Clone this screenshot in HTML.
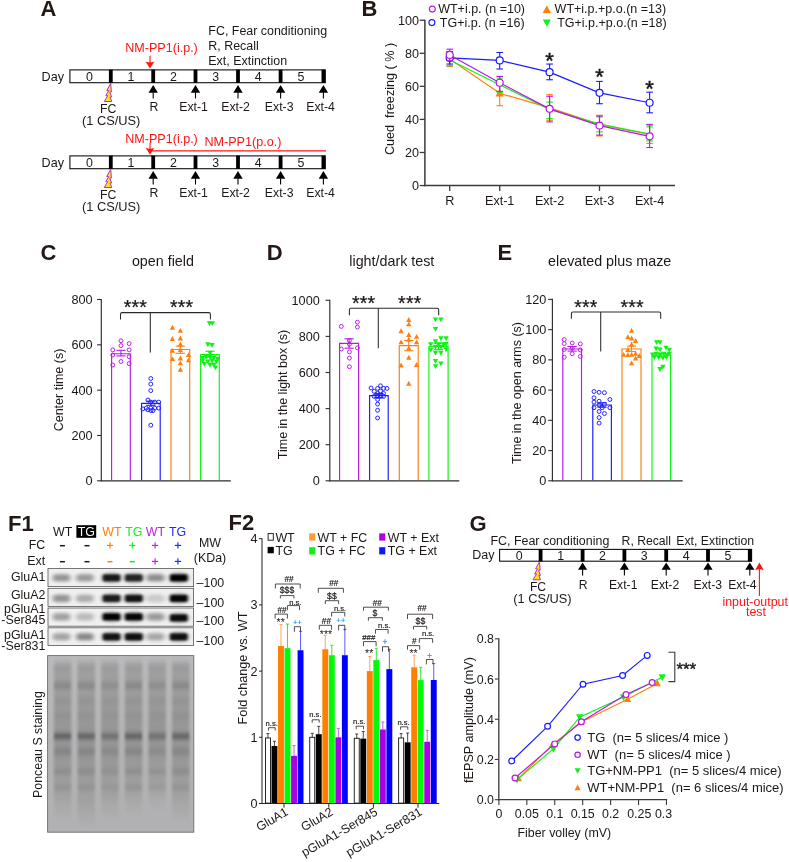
<!DOCTYPE html>
<html lang="en"><head><meta charset="utf-8"><title>Figure</title>
<style>
html,body{margin:0;padding:0;background:#fff;}
body{width:789px;height:862px;overflow:hidden;}
svg{display:block;font-family:"Liberation Sans",sans-serif;}
</style></head><body>
<svg width="789" height="862" viewBox="0 0 789 862">
<rect width="789" height="862" fill="#fff"/>
<text x="40.50" y="16.20" font-size="22" font-weight="bold" fill="#231815">A</text>
<text x="208.30" y="34.80" font-size="12.45" fill="#1d1816">FC, Fear conditioning</text>
<text x="208.30" y="49.90" font-size="12.45" fill="#1d1816">R, Recall</text>
<text x="208.30" y="64.70" font-size="12.45" fill="#1d1816">Ext, Extinction</text>
<rect x="69.90" y="69.90" width="255.40" height="12.80" fill="#fff" stroke="#111" stroke-width="1.1"/>
<rect x="108.90" y="69.60" width="3.80" height="13.40" fill="#000"/>
<rect x="151.30" y="69.60" width="3.80" height="13.40" fill="#000"/>
<rect x="193.60" y="69.60" width="3.80" height="13.40" fill="#000"/>
<rect x="236.10" y="69.60" width="3.80" height="13.40" fill="#000"/>
<rect x="278.70" y="69.60" width="3.80" height="13.40" fill="#000"/>
<rect x="321.50" y="69.60" width="3.80" height="13.40" fill="#000"/>
<text x="89.35" y="81.45" font-size="12.4" text-anchor="middle" fill="#1d1816">0</text>
<text x="131.00" y="81.45" font-size="12.4" text-anchor="middle" fill="#1d1816">1</text>
<text x="173.35" y="81.45" font-size="12.4" text-anchor="middle" fill="#1d1816">2</text>
<text x="215.75" y="81.45" font-size="12.4" text-anchor="middle" fill="#1d1816">3</text>
<text x="258.30" y="81.45" font-size="12.4" text-anchor="middle" fill="#1d1816">4</text>
<text x="301.00" y="81.45" font-size="12.4" text-anchor="middle" fill="#1d1816">5</text>
<text x="41.60" y="80.70" font-size="12.600000000000001" fill="#1d1816">Day</text>
<line x1="153.20" y1="92.20" x2="153.20" y2="98.50" stroke="#000" stroke-width="1.1"/>
<path d="M153.20 85.10L157.90 92.70L148.50 92.70Z" fill="#000"/>
<line x1="195.50" y1="92.20" x2="195.50" y2="98.50" stroke="#000" stroke-width="1.1"/>
<path d="M195.50 85.10L200.20 92.70L190.80 92.70Z" fill="#000"/>
<line x1="238.00" y1="92.20" x2="238.00" y2="98.50" stroke="#000" stroke-width="1.1"/>
<path d="M238.00 85.10L242.70 92.70L233.30 92.70Z" fill="#000"/>
<line x1="280.60" y1="92.20" x2="280.60" y2="98.50" stroke="#000" stroke-width="1.1"/>
<path d="M280.60 85.10L285.30 92.70L275.90 92.70Z" fill="#000"/>
<line x1="323.40" y1="92.20" x2="323.40" y2="98.50" stroke="#000" stroke-width="1.1"/>
<path d="M323.40 85.10L328.10 92.70L318.70 92.70Z" fill="#000"/>
<path d="M110.70 83.30L106.80 90.50L108.80 90.50L105.80 95.70L107.80 95.70L104.20 101.50L111.80 101.50L110.00 97.10L111.60 97.10L109.80 91.90L111.40 91.90Z" fill="#ffe600" stroke="#b92be0" stroke-width="1.0" stroke-linejoin="miter"/>
<text x="108.30" y="112.70" font-size="12.3" text-anchor="middle" fill="#1d1816">FC</text>
<text x="111.20" y="124.70" font-size="12.8" text-anchor="middle" fill="#1d1816">(1 CS/US)</text>
<text x="154.00" y="110.50" font-size="12.3" text-anchor="middle" fill="#1d1816">R</text>
<text x="193.60" y="110.50" font-size="12.3" text-anchor="middle" fill="#1d1816">Ext-1</text>
<text x="235.60" y="110.50" font-size="12.3" text-anchor="middle" fill="#1d1816">Ext-2</text>
<text x="279.20" y="110.50" font-size="12.3" text-anchor="middle" fill="#1d1816">Ext-3</text>
<text x="320.60" y="110.50" font-size="12.3" text-anchor="middle" fill="#1d1816">Ext-4</text>
<rect x="69.90" y="155.90" width="255.40" height="12.80" fill="#fff" stroke="#111" stroke-width="1.1"/>
<rect x="108.90" y="155.60" width="3.80" height="13.40" fill="#000"/>
<rect x="151.30" y="155.60" width="3.80" height="13.40" fill="#000"/>
<rect x="193.60" y="155.60" width="3.80" height="13.40" fill="#000"/>
<rect x="236.10" y="155.60" width="3.80" height="13.40" fill="#000"/>
<rect x="278.70" y="155.60" width="3.80" height="13.40" fill="#000"/>
<rect x="321.50" y="155.60" width="3.80" height="13.40" fill="#000"/>
<text x="89.35" y="167.45" font-size="12.4" text-anchor="middle" fill="#1d1816">0</text>
<text x="131.00" y="167.45" font-size="12.4" text-anchor="middle" fill="#1d1816">1</text>
<text x="173.35" y="167.45" font-size="12.4" text-anchor="middle" fill="#1d1816">2</text>
<text x="215.75" y="167.45" font-size="12.4" text-anchor="middle" fill="#1d1816">3</text>
<text x="258.30" y="167.45" font-size="12.4" text-anchor="middle" fill="#1d1816">4</text>
<text x="301.00" y="167.45" font-size="12.4" text-anchor="middle" fill="#1d1816">5</text>
<text x="41.60" y="166.70" font-size="12.600000000000001" fill="#1d1816">Day</text>
<line x1="153.20" y1="178.20" x2="153.20" y2="184.50" stroke="#000" stroke-width="1.1"/>
<path d="M153.20 171.10L157.90 178.70L148.50 178.70Z" fill="#000"/>
<line x1="195.50" y1="178.20" x2="195.50" y2="184.50" stroke="#000" stroke-width="1.1"/>
<path d="M195.50 171.10L200.20 178.70L190.80 178.70Z" fill="#000"/>
<line x1="238.00" y1="178.20" x2="238.00" y2="184.50" stroke="#000" stroke-width="1.1"/>
<path d="M238.00 171.10L242.70 178.70L233.30 178.70Z" fill="#000"/>
<line x1="280.60" y1="178.20" x2="280.60" y2="184.50" stroke="#000" stroke-width="1.1"/>
<path d="M280.60 171.10L285.30 178.70L275.90 178.70Z" fill="#000"/>
<line x1="323.40" y1="178.20" x2="323.40" y2="184.50" stroke="#000" stroke-width="1.1"/>
<path d="M323.40 171.10L328.10 178.70L318.70 178.70Z" fill="#000"/>
<path d="M110.70 169.30L106.80 176.50L108.80 176.50L105.80 181.70L107.80 181.70L104.20 187.50L111.80 187.50L110.00 183.10L111.60 183.10L109.80 177.90L111.40 177.90Z" fill="#ffe600" stroke="#b92be0" stroke-width="1.0" stroke-linejoin="miter"/>
<text x="108.30" y="198.70" font-size="12.3" text-anchor="middle" fill="#1d1816">FC</text>
<text x="111.20" y="210.70" font-size="12.8" text-anchor="middle" fill="#1d1816">(1 CS/US)</text>
<text x="154.00" y="196.50" font-size="12.3" text-anchor="middle" fill="#1d1816">R</text>
<text x="193.60" y="196.50" font-size="12.3" text-anchor="middle" fill="#1d1816">Ext-1</text>
<text x="235.60" y="196.50" font-size="12.3" text-anchor="middle" fill="#1d1816">Ext-2</text>
<text x="279.20" y="196.50" font-size="12.3" text-anchor="middle" fill="#1d1816">Ext-3</text>
<text x="320.60" y="196.50" font-size="12.3" text-anchor="middle" fill="#1d1816">Ext-4</text>
<text x="125.30" y="52.30" font-size="12.55" fill="#ff1414">NM-PP1(i.p.)</text>
<line x1="150.00" y1="55.80" x2="150.00" y2="63.00" stroke="#ff1414" stroke-width="1.1"/>
<path d="M145.5 61.4Q150 63.2 154.5 61.4L150 68.6Z" fill="#ff1414"/>
<text x="125.30" y="142.50" font-size="12.55" fill="#ff1414">NM-PP1(i.p.)</text>
<text x="204.40" y="145.60" font-size="12.6" fill="#ff1414">NM-PP1(p.o.)</text>
<line x1="150.00" y1="143.00" x2="150.00" y2="149.50" stroke="#ff1414" stroke-width="1.1"/>
<path d="M145.7 147.8Q150 149.6 154.3 147.8L150 154.8Z" fill="#ff1414"/>
<line x1="150.00" y1="150.90" x2="326.00" y2="150.90" stroke="#ff1414" stroke-width="1.2"/>
<text x="361.40" y="16.20" font-size="22" font-weight="bold" fill="#231815">B</text>
<line x1="424.90" y1="19.65" x2="424.90" y2="186.25" stroke="#3a3a3a" stroke-width="1.5"/>
<line x1="424.20" y1="185.55" x2="675.00" y2="185.55" stroke="#3a3a3a" stroke-width="1.5"/>
<line x1="419.70" y1="185.55" x2="424.90" y2="185.55" stroke="#3a3a3a" stroke-width="1.3"/>
<text x="418.90" y="190.15" font-size="12.6" text-anchor="end" fill="#1d1816">0</text>
<line x1="419.70" y1="152.49" x2="424.90" y2="152.49" stroke="#3a3a3a" stroke-width="1.3"/>
<text x="418.90" y="157.09" font-size="12.6" text-anchor="end" fill="#1d1816">20</text>
<line x1="419.70" y1="119.43" x2="424.90" y2="119.43" stroke="#3a3a3a" stroke-width="1.3"/>
<text x="418.90" y="124.03" font-size="12.6" text-anchor="end" fill="#1d1816">40</text>
<line x1="419.70" y1="86.37" x2="424.90" y2="86.37" stroke="#3a3a3a" stroke-width="1.3"/>
<text x="418.90" y="90.97" font-size="12.6" text-anchor="end" fill="#1d1816">60</text>
<line x1="419.70" y1="53.31" x2="424.90" y2="53.31" stroke="#3a3a3a" stroke-width="1.3"/>
<text x="418.90" y="57.91" font-size="12.6" text-anchor="end" fill="#1d1816">80</text>
<line x1="419.70" y1="20.25" x2="424.90" y2="20.25" stroke="#3a3a3a" stroke-width="1.3"/>
<text x="418.90" y="24.85" font-size="12.6" text-anchor="end" fill="#1d1816">100</text>
<line x1="449.70" y1="185.55" x2="449.70" y2="190.95" stroke="#3a3a3a" stroke-width="1.3"/>
<text x="449.70" y="204.85" font-size="12.6" text-anchor="middle" fill="#1d1816">R</text>
<line x1="499.70" y1="185.55" x2="499.70" y2="190.95" stroke="#3a3a3a" stroke-width="1.3"/>
<text x="499.70" y="204.85" font-size="12.6" text-anchor="middle" fill="#1d1816">Ext-1</text>
<line x1="549.60" y1="185.55" x2="549.60" y2="190.95" stroke="#3a3a3a" stroke-width="1.3"/>
<text x="549.60" y="204.85" font-size="12.6" text-anchor="middle" fill="#1d1816">Ext-2</text>
<line x1="599.50" y1="185.55" x2="599.50" y2="190.95" stroke="#3a3a3a" stroke-width="1.3"/>
<text x="599.50" y="204.85" font-size="12.6" text-anchor="middle" fill="#1d1816">Ext-3</text>
<line x1="649.60" y1="185.55" x2="649.60" y2="190.95" stroke="#3a3a3a" stroke-width="1.3"/>
<text x="649.60" y="204.85" font-size="12.6" text-anchor="middle" fill="#1d1816">Ext-4</text>
<text x="393.80" y="98.90" font-size="12.65" text-anchor="middle" fill="#1d1816" transform="rotate(-90 393.80 98.90)">Cued  freezing ( % )</text>
<line x1="449.70" y1="51.66" x2="449.70" y2="66.53" stroke="#ff7f0e" stroke-width="1.1"/>
<line x1="446.40" y1="51.66" x2="453.00" y2="51.66" stroke="#ff7f0e" stroke-width="1.1"/>
<line x1="446.40" y1="66.53" x2="453.00" y2="66.53" stroke="#ff7f0e" stroke-width="1.1"/>
<line x1="499.70" y1="83.89" x2="499.70" y2="105.71" stroke="#ff7f0e" stroke-width="1.1"/>
<line x1="496.40" y1="83.89" x2="503.00" y2="83.89" stroke="#ff7f0e" stroke-width="1.1"/>
<line x1="496.40" y1="105.71" x2="503.00" y2="105.71" stroke="#ff7f0e" stroke-width="1.1"/>
<line x1="549.60" y1="94.64" x2="549.60" y2="120.26" stroke="#ff7f0e" stroke-width="1.1"/>
<line x1="546.30" y1="94.64" x2="552.90" y2="94.64" stroke="#ff7f0e" stroke-width="1.1"/>
<line x1="546.30" y1="120.26" x2="552.90" y2="120.26" stroke="#ff7f0e" stroke-width="1.1"/>
<line x1="599.50" y1="115.30" x2="599.50" y2="135.96" stroke="#ff7f0e" stroke-width="1.1"/>
<line x1="596.20" y1="115.30" x2="602.80" y2="115.30" stroke="#ff7f0e" stroke-width="1.1"/>
<line x1="596.20" y1="135.96" x2="602.80" y2="135.96" stroke="#ff7f0e" stroke-width="1.1"/>
<line x1="649.60" y1="125.22" x2="649.60" y2="143.40" stroke="#ff7f0e" stroke-width="1.1"/>
<line x1="646.30" y1="125.22" x2="652.90" y2="125.22" stroke="#ff7f0e" stroke-width="1.1"/>
<line x1="646.30" y1="143.40" x2="652.90" y2="143.40" stroke="#ff7f0e" stroke-width="1.1"/>
<polyline points="449.70,59.10 499.70,93.31 549.60,107.86 599.50,124.39 649.60,134.31" fill="none" stroke="#ff7f0e" stroke-width="1.2"/>
<path d="M499.70 88.71L503.88 96.41L495.52 96.41Z" fill="#ff7f0e"/>
<line x1="449.70" y1="53.31" x2="449.70" y2="65.71" stroke="#0cf414" stroke-width="1.1"/>
<line x1="446.40" y1="53.31" x2="453.00" y2="53.31" stroke="#0cf414" stroke-width="1.1"/>
<line x1="446.40" y1="65.71" x2="453.00" y2="65.71" stroke="#0cf414" stroke-width="1.1"/>
<line x1="499.70" y1="78.11" x2="499.70" y2="92.16" stroke="#0cf414" stroke-width="1.1"/>
<line x1="496.40" y1="78.11" x2="503.00" y2="78.11" stroke="#0cf414" stroke-width="1.1"/>
<line x1="496.40" y1="92.16" x2="503.00" y2="92.16" stroke="#0cf414" stroke-width="1.1"/>
<line x1="549.60" y1="102.07" x2="549.60" y2="118.60" stroke="#0cf414" stroke-width="1.1"/>
<line x1="546.30" y1="102.07" x2="552.90" y2="102.07" stroke="#0cf414" stroke-width="1.1"/>
<line x1="546.30" y1="118.60" x2="552.90" y2="118.60" stroke="#0cf414" stroke-width="1.1"/>
<line x1="599.50" y1="116.95" x2="599.50" y2="131.83" stroke="#0cf414" stroke-width="1.1"/>
<line x1="596.20" y1="116.95" x2="602.80" y2="116.95" stroke="#0cf414" stroke-width="1.1"/>
<line x1="596.20" y1="131.83" x2="602.80" y2="131.83" stroke="#0cf414" stroke-width="1.1"/>
<line x1="649.60" y1="126.87" x2="649.60" y2="140.92" stroke="#0cf414" stroke-width="1.1"/>
<line x1="646.30" y1="126.87" x2="652.90" y2="126.87" stroke="#0cf414" stroke-width="1.1"/>
<line x1="646.30" y1="140.92" x2="652.90" y2="140.92" stroke="#0cf414" stroke-width="1.1"/>
<polyline points="449.70,59.92 499.70,84.72 549.60,109.51 599.50,124.06 649.60,133.98" fill="none" stroke="#0cf414" stroke-width="1.2"/>
<line x1="449.70" y1="51.66" x2="449.70" y2="64.05" stroke="#1a1aff" stroke-width="1.1"/>
<line x1="446.40" y1="51.66" x2="453.00" y2="51.66" stroke="#1a1aff" stroke-width="1.1"/>
<line x1="446.40" y1="64.05" x2="453.00" y2="64.05" stroke="#1a1aff" stroke-width="1.1"/>
<line x1="499.70" y1="52.48" x2="499.70" y2="69.01" stroke="#1a1aff" stroke-width="1.1"/>
<line x1="496.40" y1="52.48" x2="503.00" y2="52.48" stroke="#1a1aff" stroke-width="1.1"/>
<line x1="496.40" y1="69.01" x2="503.00" y2="69.01" stroke="#1a1aff" stroke-width="1.1"/>
<line x1="549.60" y1="64.05" x2="549.60" y2="79.76" stroke="#1a1aff" stroke-width="1.1"/>
<line x1="546.30" y1="64.05" x2="552.90" y2="64.05" stroke="#1a1aff" stroke-width="1.1"/>
<line x1="546.30" y1="79.76" x2="552.90" y2="79.76" stroke="#1a1aff" stroke-width="1.1"/>
<line x1="599.50" y1="81.41" x2="599.50" y2="103.73" stroke="#1a1aff" stroke-width="1.1"/>
<line x1="596.20" y1="81.41" x2="602.80" y2="81.41" stroke="#1a1aff" stroke-width="1.1"/>
<line x1="596.20" y1="103.73" x2="602.80" y2="103.73" stroke="#1a1aff" stroke-width="1.1"/>
<line x1="649.60" y1="92.16" x2="649.60" y2="112.82" stroke="#1a1aff" stroke-width="1.1"/>
<line x1="646.30" y1="92.16" x2="652.90" y2="92.16" stroke="#1a1aff" stroke-width="1.1"/>
<line x1="646.30" y1="112.82" x2="652.90" y2="112.82" stroke="#1a1aff" stroke-width="1.1"/>
<polyline points="449.70,57.94 499.70,60.42 549.60,72.15 599.50,92.82 649.60,102.73" fill="none" stroke="#1a1aff" stroke-width="1.2"/>
<circle cx="449.70" cy="57.94" r="3.5" fill="#fff" stroke="#1a1aff" stroke-width="1.2"/>
<circle cx="499.70" cy="60.42" r="3.5" fill="#fff" stroke="#1a1aff" stroke-width="1.2"/>
<circle cx="549.60" cy="72.15" r="3.5" fill="#fff" stroke="#1a1aff" stroke-width="1.2"/>
<circle cx="599.50" cy="92.82" r="3.5" fill="#fff" stroke="#1a1aff" stroke-width="1.2"/>
<circle cx="649.60" cy="102.73" r="3.5" fill="#fff" stroke="#1a1aff" stroke-width="1.2"/>
<line x1="449.70" y1="49.18" x2="449.70" y2="60.75" stroke="#b818e4" stroke-width="1.1"/>
<line x1="446.40" y1="49.18" x2="453.00" y2="49.18" stroke="#b818e4" stroke-width="1.1"/>
<line x1="446.40" y1="60.75" x2="453.00" y2="60.75" stroke="#b818e4" stroke-width="1.1"/>
<line x1="499.70" y1="76.45" x2="499.70" y2="91.33" stroke="#b818e4" stroke-width="1.1"/>
<line x1="496.40" y1="76.45" x2="503.00" y2="76.45" stroke="#b818e4" stroke-width="1.1"/>
<line x1="496.40" y1="91.33" x2="503.00" y2="91.33" stroke="#b818e4" stroke-width="1.1"/>
<line x1="549.60" y1="96.29" x2="549.60" y2="121.91" stroke="#b818e4" stroke-width="1.1"/>
<line x1="546.30" y1="96.29" x2="552.90" y2="96.29" stroke="#b818e4" stroke-width="1.1"/>
<line x1="546.30" y1="121.91" x2="552.90" y2="121.91" stroke="#b818e4" stroke-width="1.1"/>
<line x1="599.50" y1="116.12" x2="599.50" y2="135.13" stroke="#b818e4" stroke-width="1.1"/>
<line x1="596.20" y1="116.12" x2="602.80" y2="116.12" stroke="#b818e4" stroke-width="1.1"/>
<line x1="596.20" y1="135.13" x2="602.80" y2="135.13" stroke="#b818e4" stroke-width="1.1"/>
<line x1="649.60" y1="124.39" x2="649.60" y2="147.53" stroke="#b818e4" stroke-width="1.1"/>
<line x1="646.30" y1="124.39" x2="652.90" y2="124.39" stroke="#b818e4" stroke-width="1.1"/>
<line x1="646.30" y1="147.53" x2="652.90" y2="147.53" stroke="#b818e4" stroke-width="1.1"/>
<polyline points="449.70,54.96 499.70,82.73 549.60,108.85 599.50,125.55 649.60,136.29" fill="none" stroke="#b818e4" stroke-width="1.2"/>
<circle cx="449.70" cy="54.96" r="3.5" fill="#fff" stroke="#b818e4" stroke-width="1.2"/>
<circle cx="499.70" cy="82.73" r="3.5" fill="#fff" stroke="#b818e4" stroke-width="1.2"/>
<circle cx="549.60" cy="108.85" r="3.5" fill="#fff" stroke="#b818e4" stroke-width="1.2"/>
<circle cx="599.50" cy="125.55" r="3.5" fill="#fff" stroke="#b818e4" stroke-width="1.2"/>
<circle cx="649.60" cy="136.29" r="3.5" fill="#fff" stroke="#b818e4" stroke-width="1.2"/>
<text x="549.60" y="67.60" font-size="22" text-anchor="middle" fill="#1d1816" stroke="#1d1816" stroke-width="0.5">*</text>
<text x="599.50" y="84.00" font-size="22" text-anchor="middle" fill="#1d1816" stroke="#1d1816" stroke-width="0.5">*</text>
<text x="649.60" y="95.80" font-size="22" text-anchor="middle" fill="#1d1816" stroke="#1d1816" stroke-width="0.5">*</text>
<circle cx="432.30" cy="9.10" r="3.0" fill="#fff" stroke="#b818e4" stroke-width="1.1"/>
<text x="438.20" y="13.30" font-size="12.5" fill="#1d1816">WT+i.p. (n =10)</text>
<circle cx="431.90" cy="22.60" r="3.0" fill="#fff" stroke="#1a1aff" stroke-width="1.1"/>
<text x="439.80" y="27.40" font-size="12.5" fill="#1d1816">TG+i.p. (n =16)</text>
<path d="M546.80 5.40L550.98 13.10L542.62 13.10Z" fill="#ff7f0e"/>
<text x="554.60" y="13.30" font-size="12.5" fill="#1d1816">WT+i.p.+p.o.(n =13)</text>
<path d="M546.80 26.80L550.79 19.45L542.81 19.45Z" fill="#0cf414"/>
<text x="557.20" y="27.40" font-size="12.5" fill="#1d1816">TG+i.p.+p.o.(n =18)</text>
<text x="40.60" y="260.40" font-size="22" font-weight="bold" fill="#231815">C</text>
<text x="162.90" y="265.60" font-size="14.3" text-anchor="middle" fill="#1d1816">open field</text>
<line x1="101.30" y1="298.95" x2="101.30" y2="481.35" stroke="#2c2c2c" stroke-width="1.15"/>
<line x1="100.75" y1="480.80" x2="230.80" y2="480.80" stroke="#2c2c2c" stroke-width="1.15"/>
<line x1="97.10" y1="480.80" x2="101.30" y2="480.80" stroke="#2c2c2c" stroke-width="1.1"/>
<text x="92.60" y="485.30" font-size="12.7" text-anchor="end" fill="#1d1816">0</text>
<line x1="97.10" y1="435.48" x2="101.30" y2="435.48" stroke="#2c2c2c" stroke-width="1.1"/>
<text x="92.60" y="439.98" font-size="12.7" text-anchor="end" fill="#1d1816">200</text>
<line x1="97.10" y1="390.15" x2="101.30" y2="390.15" stroke="#2c2c2c" stroke-width="1.1"/>
<text x="92.60" y="394.65" font-size="12.7" text-anchor="end" fill="#1d1816">400</text>
<line x1="97.10" y1="344.82" x2="101.30" y2="344.82" stroke="#2c2c2c" stroke-width="1.1"/>
<text x="92.60" y="349.32" font-size="12.7" text-anchor="end" fill="#1d1816">600</text>
<line x1="97.10" y1="299.50" x2="101.30" y2="299.50" stroke="#2c2c2c" stroke-width="1.1"/>
<text x="92.60" y="304.00" font-size="12.7" text-anchor="end" fill="#1d1816">800</text>
<text x="62.60" y="390.00" font-size="12.5" text-anchor="middle" fill="#1d1816" transform="rotate(-90 62.60 390.00)">Center time (s)</text>
<path d="M111.60 480.20L111.60 353.70L130.30 353.70L130.30 480.20" fill="none" stroke="#b818e4" stroke-width="1.15"/>
<line x1="120.95" y1="350.30" x2="120.95" y2="355.90" stroke="#b818e4" stroke-width="1.1"/>
<line x1="116.35" y1="350.30" x2="125.55" y2="350.30" stroke="#b818e4" stroke-width="1.1"/>
<line x1="116.35" y1="355.90" x2="125.55" y2="355.90" stroke="#b818e4" stroke-width="1.1"/>
<circle cx="121.00" cy="340.80" r="1.95" fill="none" stroke="#b818e4" stroke-width="0.95"/>
<circle cx="121.00" cy="345.60" r="1.95" fill="none" stroke="#b818e4" stroke-width="0.95"/>
<circle cx="129.10" cy="343.60" r="1.95" fill="none" stroke="#b818e4" stroke-width="0.95"/>
<circle cx="112.80" cy="349.90" r="1.95" fill="none" stroke="#b818e4" stroke-width="0.95"/>
<circle cx="129.10" cy="349.90" r="1.95" fill="none" stroke="#b818e4" stroke-width="0.95"/>
<circle cx="112.80" cy="355.00" r="1.95" fill="none" stroke="#b818e4" stroke-width="0.95"/>
<circle cx="129.10" cy="356.70" r="1.95" fill="none" stroke="#b818e4" stroke-width="0.95"/>
<circle cx="121.00" cy="361.50" r="1.95" fill="none" stroke="#b818e4" stroke-width="0.95"/>
<circle cx="129.10" cy="363.60" r="1.95" fill="none" stroke="#b818e4" stroke-width="0.95"/>
<circle cx="112.80" cy="365.00" r="1.95" fill="none" stroke="#b818e4" stroke-width="0.95"/>
<path d="M141.60 480.20L141.60 403.30L160.20 403.30L160.20 480.20" fill="none" stroke="#1a1aff" stroke-width="1.15"/>
<line x1="150.90" y1="401.20" x2="150.90" y2="405.30" stroke="#1a1aff" stroke-width="1.1"/>
<line x1="146.30" y1="401.20" x2="155.50" y2="401.20" stroke="#1a1aff" stroke-width="1.1"/>
<line x1="146.30" y1="405.30" x2="155.50" y2="405.30" stroke="#1a1aff" stroke-width="1.1"/>
<circle cx="150.80" cy="378.50" r="1.95" fill="none" stroke="#1a1aff" stroke-width="0.95"/>
<circle cx="150.80" cy="384.10" r="1.95" fill="none" stroke="#1a1aff" stroke-width="0.95"/>
<circle cx="150.80" cy="390.60" r="1.95" fill="none" stroke="#1a1aff" stroke-width="0.95"/>
<circle cx="147.90" cy="400.00" r="1.95" fill="none" stroke="#1a1aff" stroke-width="0.95"/>
<circle cx="150.80" cy="402.10" r="1.95" fill="none" stroke="#1a1aff" stroke-width="0.95"/>
<circle cx="154.80" cy="402.10" r="1.95" fill="none" stroke="#1a1aff" stroke-width="0.95"/>
<circle cx="158.70" cy="402.10" r="1.95" fill="none" stroke="#1a1aff" stroke-width="0.95"/>
<circle cx="142.80" cy="408.90" r="1.95" fill="none" stroke="#1a1aff" stroke-width="0.95"/>
<circle cx="146.20" cy="408.10" r="1.95" fill="none" stroke="#1a1aff" stroke-width="0.95"/>
<circle cx="150.80" cy="408.10" r="1.95" fill="none" stroke="#1a1aff" stroke-width="0.95"/>
<circle cx="154.80" cy="408.10" r="1.95" fill="none" stroke="#1a1aff" stroke-width="0.95"/>
<circle cx="158.70" cy="408.10" r="1.95" fill="none" stroke="#1a1aff" stroke-width="0.95"/>
<circle cx="147.90" cy="409.80" r="1.95" fill="none" stroke="#1a1aff" stroke-width="0.95"/>
<circle cx="150.80" cy="410.60" r="1.95" fill="none" stroke="#1a1aff" stroke-width="0.95"/>
<circle cx="153.00" cy="410.60" r="1.95" fill="none" stroke="#1a1aff" stroke-width="0.95"/>
<circle cx="150.80" cy="425.20" r="1.95" fill="none" stroke="#1a1aff" stroke-width="0.95"/>
<path d="M171.00 480.20L171.00 349.50L189.70 349.50L189.70 480.20" fill="none" stroke="#ff7f0e" stroke-width="1.15"/>
<line x1="180.35" y1="346.10" x2="180.35" y2="353.30" stroke="#ff7f0e" stroke-width="1.1"/>
<line x1="175.75" y1="346.10" x2="184.95" y2="346.10" stroke="#ff7f0e" stroke-width="1.1"/>
<line x1="175.75" y1="353.30" x2="184.95" y2="353.30" stroke="#ff7f0e" stroke-width="1.1"/>
<path d="M172.40 324.80L175.06 329.70L169.74 329.70Z" fill="#ff7f0e"/>
<path d="M180.40 327.90L183.06 332.80L177.74 332.80Z" fill="#ff7f0e"/>
<path d="M172.40 336.00L175.06 340.90L169.74 340.90Z" fill="#ff7f0e"/>
<path d="M180.40 335.60L183.06 340.50L177.74 340.50Z" fill="#ff7f0e"/>
<path d="M180.40 341.60L183.06 346.50L177.74 346.50Z" fill="#ff7f0e"/>
<path d="M172.40 347.90L175.06 352.80L169.74 352.80Z" fill="#ff7f0e"/>
<path d="M180.40 347.10L183.06 352.00L177.74 352.00Z" fill="#ff7f0e"/>
<path d="M188.50 352.20L191.16 357.10L185.84 357.10Z" fill="#ff7f0e"/>
<path d="M172.40 356.20L175.06 361.10L169.74 361.10Z" fill="#ff7f0e"/>
<path d="M180.40 355.60L183.06 360.50L177.74 360.50Z" fill="#ff7f0e"/>
<path d="M188.50 357.40L191.16 362.30L185.84 362.30Z" fill="#ff7f0e"/>
<path d="M180.40 360.40L183.06 365.30L177.74 365.30Z" fill="#ff7f0e"/>
<path d="M180.40 366.80L183.06 371.70L177.74 371.70Z" fill="#ff7f0e"/>
<path d="M200.60 480.20L200.60 354.50L219.30 354.50L219.30 480.20" fill="none" stroke="#0cf414" stroke-width="1.15"/>
<line x1="209.95" y1="351.30" x2="209.95" y2="357.20" stroke="#0cf414" stroke-width="1.1"/>
<line x1="205.35" y1="351.30" x2="214.55" y2="351.30" stroke="#0cf414" stroke-width="1.1"/>
<line x1="205.35" y1="357.20" x2="214.55" y2="357.20" stroke="#0cf414" stroke-width="1.1"/>
<path d="M209.50 326.10L212.16 321.20L206.84 321.20Z" fill="#0cf414"/>
<path d="M212.40 326.10L215.06 321.20L209.74 321.20Z" fill="#0cf414"/>
<path d="M207.80 347.20L210.46 342.30L205.14 342.30Z" fill="#0cf414"/>
<path d="M212.10 348.00L214.76 343.10L209.44 343.10Z" fill="#0cf414"/>
<path d="M210.00 355.70L212.66 350.80L207.34 350.80Z" fill="#0cf414"/>
<path d="M202.70 360.80L205.36 355.90L200.04 355.90Z" fill="#0cf414"/>
<path d="M206.10 360.00L208.76 355.10L203.44 355.10Z" fill="#0cf414"/>
<path d="M210.00 360.00L212.66 355.10L207.34 355.10Z" fill="#0cf414"/>
<path d="M213.80 360.80L216.46 355.90L211.14 355.90Z" fill="#0cf414"/>
<path d="M217.70 361.70L220.36 356.80L215.04 356.80Z" fill="#0cf414"/>
<path d="M202.70 363.40L205.36 358.50L200.04 358.50Z" fill="#0cf414"/>
<path d="M207.80 364.30L210.46 359.40L205.14 359.40Z" fill="#0cf414"/>
<path d="M212.10 363.40L214.76 358.50L209.44 358.50Z" fill="#0cf414"/>
<path d="M216.40 364.30L219.06 359.40L213.74 359.40Z" fill="#0cf414"/>
<path d="M204.40 366.80L207.06 361.90L201.74 361.90Z" fill="#0cf414"/>
<path d="M210.00 367.70L212.66 362.80L207.34 362.80Z" fill="#0cf414"/>
<path d="M213.80 367.70L216.46 362.80L211.14 362.80Z" fill="#0cf414"/>
<path d="M215.50 370.30L218.16 365.40L212.84 365.40Z" fill="#0cf414"/>
<path d="M120.50 319.40L120.50 314.20Q120.50 312.60 122.10 312.60L208.80 312.60Q210.40 312.60 210.40 314.20L210.40 319.40" fill="none" stroke="#2a2a2a" stroke-width="1.05"/>
<line x1="150.30" y1="312.60" x2="150.30" y2="352.50" stroke="#2a2a2a" stroke-width="1.05"/>
<text x="135.40" y="313.90" font-size="19.5" text-anchor="middle" fill="#1d1816" letter-spacing="0.2" stroke="#1d1816" stroke-width="0.25">***</text>
<text x="181.60" y="313.90" font-size="19.5" text-anchor="middle" fill="#1d1816" letter-spacing="0.2" stroke="#1d1816" stroke-width="0.25">***</text>
<text x="266.80" y="260.40" font-size="22" font-weight="bold" fill="#231815">D</text>
<text x="391.80" y="265.60" font-size="14.3" text-anchor="middle" fill="#1d1816">light/dark test</text>
<line x1="329.80" y1="299.75" x2="329.80" y2="481.35" stroke="#2c2c2c" stroke-width="1.15"/>
<line x1="329.25" y1="480.80" x2="459.30" y2="480.80" stroke="#2c2c2c" stroke-width="1.15"/>
<line x1="325.60" y1="480.80" x2="329.80" y2="480.80" stroke="#2c2c2c" stroke-width="1.1"/>
<text x="319.80" y="485.30" font-size="12.7" text-anchor="end" fill="#1d1816">0</text>
<line x1="325.60" y1="444.70" x2="329.80" y2="444.70" stroke="#2c2c2c" stroke-width="1.1"/>
<text x="319.80" y="449.20" font-size="12.7" text-anchor="end" fill="#1d1816">200</text>
<line x1="325.60" y1="408.60" x2="329.80" y2="408.60" stroke="#2c2c2c" stroke-width="1.1"/>
<text x="319.80" y="413.10" font-size="12.7" text-anchor="end" fill="#1d1816">400</text>
<line x1="325.60" y1="372.50" x2="329.80" y2="372.50" stroke="#2c2c2c" stroke-width="1.1"/>
<text x="319.80" y="377.00" font-size="12.7" text-anchor="end" fill="#1d1816">600</text>
<line x1="325.60" y1="336.40" x2="329.80" y2="336.40" stroke="#2c2c2c" stroke-width="1.1"/>
<text x="319.80" y="340.90" font-size="12.7" text-anchor="end" fill="#1d1816">800</text>
<line x1="325.60" y1="300.30" x2="329.80" y2="300.30" stroke="#2c2c2c" stroke-width="1.1"/>
<text x="319.80" y="304.80" font-size="12.7" text-anchor="end" fill="#1d1816">1000</text>
<text x="287.40" y="394.50" font-size="12.5" text-anchor="middle" fill="#1d1816" transform="rotate(-90 287.40 394.50)">Time in the light box (s)</text>
<path d="M339.60 480.20L339.60 343.40L358.60 343.40L358.60 480.20" fill="none" stroke="#b818e4" stroke-width="1.15"/>
<line x1="349.10" y1="338.80" x2="349.10" y2="348.20" stroke="#b818e4" stroke-width="1.1"/>
<line x1="344.50" y1="338.80" x2="353.70" y2="338.80" stroke="#b818e4" stroke-width="1.1"/>
<line x1="344.50" y1="348.20" x2="353.70" y2="348.20" stroke="#b818e4" stroke-width="1.1"/>
<circle cx="341.30" cy="326.40" r="1.95" fill="none" stroke="#b818e4" stroke-width="0.95"/>
<circle cx="357.40" cy="322.20" r="1.95" fill="none" stroke="#b818e4" stroke-width="0.95"/>
<circle cx="357.40" cy="327.10" r="1.95" fill="none" stroke="#b818e4" stroke-width="0.95"/>
<circle cx="349.40" cy="340.50" r="1.95" fill="none" stroke="#b818e4" stroke-width="0.95"/>
<circle cx="349.40" cy="344.40" r="1.95" fill="none" stroke="#b818e4" stroke-width="0.95"/>
<circle cx="341.30" cy="349.00" r="1.95" fill="none" stroke="#b818e4" stroke-width="0.95"/>
<circle cx="357.40" cy="347.80" r="1.95" fill="none" stroke="#b818e4" stroke-width="0.95"/>
<circle cx="349.40" cy="351.90" r="1.95" fill="none" stroke="#b818e4" stroke-width="0.95"/>
<circle cx="349.40" cy="358.10" r="1.95" fill="none" stroke="#b818e4" stroke-width="0.95"/>
<circle cx="349.40" cy="366.70" r="1.95" fill="none" stroke="#b818e4" stroke-width="0.95"/>
<path d="M369.60 480.20L369.60 395.60L388.20 395.60L388.20 480.20" fill="none" stroke="#1a1aff" stroke-width="1.15"/>
<line x1="378.90" y1="393.60" x2="378.90" y2="397.60" stroke="#1a1aff" stroke-width="1.1"/>
<line x1="374.30" y1="393.60" x2="383.50" y2="393.60" stroke="#1a1aff" stroke-width="1.1"/>
<line x1="374.30" y1="397.60" x2="383.50" y2="397.60" stroke="#1a1aff" stroke-width="1.1"/>
<circle cx="371.10" cy="388.00" r="1.95" fill="none" stroke="#1a1aff" stroke-width="0.95"/>
<circle cx="380.50" cy="385.80" r="1.95" fill="none" stroke="#1a1aff" stroke-width="0.95"/>
<circle cx="377.60" cy="388.40" r="1.95" fill="none" stroke="#1a1aff" stroke-width="0.95"/>
<circle cx="383.60" cy="388.40" r="1.95" fill="none" stroke="#1a1aff" stroke-width="0.95"/>
<circle cx="387.00" cy="388.40" r="1.95" fill="none" stroke="#1a1aff" stroke-width="0.95"/>
<circle cx="374.20" cy="391.30" r="1.95" fill="none" stroke="#1a1aff" stroke-width="0.95"/>
<circle cx="380.50" cy="391.00" r="1.95" fill="none" stroke="#1a1aff" stroke-width="0.95"/>
<circle cx="377.60" cy="393.50" r="1.95" fill="none" stroke="#1a1aff" stroke-width="0.95"/>
<circle cx="383.60" cy="393.50" r="1.95" fill="none" stroke="#1a1aff" stroke-width="0.95"/>
<circle cx="374.20" cy="396.40" r="1.95" fill="none" stroke="#1a1aff" stroke-width="0.95"/>
<circle cx="377.60" cy="396.40" r="1.95" fill="none" stroke="#1a1aff" stroke-width="0.95"/>
<circle cx="380.50" cy="396.40" r="1.95" fill="none" stroke="#1a1aff" stroke-width="0.95"/>
<circle cx="383.60" cy="396.40" r="1.95" fill="none" stroke="#1a1aff" stroke-width="0.95"/>
<circle cx="377.60" cy="399.50" r="1.95" fill="none" stroke="#1a1aff" stroke-width="0.95"/>
<circle cx="377.60" cy="404.10" r="1.95" fill="none" stroke="#1a1aff" stroke-width="0.95"/>
<circle cx="377.60" cy="410.30" r="1.95" fill="none" stroke="#1a1aff" stroke-width="0.95"/>
<circle cx="377.60" cy="418.00" r="1.95" fill="none" stroke="#1a1aff" stroke-width="0.95"/>
<path d="M399.30 480.20L399.30 345.60L418.20 345.60L418.20 480.20" fill="none" stroke="#ff7f0e" stroke-width="1.15"/>
<line x1="408.75" y1="340.50" x2="408.75" y2="350.70" stroke="#ff7f0e" stroke-width="1.1"/>
<line x1="404.15" y1="340.50" x2="413.35" y2="340.50" stroke="#ff7f0e" stroke-width="1.1"/>
<line x1="404.15" y1="350.70" x2="413.35" y2="350.70" stroke="#ff7f0e" stroke-width="1.1"/>
<path d="M408.80 317.10L411.46 322.00L406.14 322.00Z" fill="#ff7f0e"/>
<path d="M408.80 321.40L411.46 326.30L406.14 326.30Z" fill="#ff7f0e"/>
<path d="M401.10 328.30L403.76 333.20L398.44 333.20Z" fill="#ff7f0e"/>
<path d="M408.80 332.00L411.46 336.90L406.14 336.90Z" fill="#ff7f0e"/>
<path d="M416.60 333.90L419.26 338.80L413.94 338.80Z" fill="#ff7f0e"/>
<path d="M401.10 339.40L403.76 344.30L398.44 344.30Z" fill="#ff7f0e"/>
<path d="M408.80 336.80L411.46 341.70L406.14 341.70Z" fill="#ff7f0e"/>
<path d="M416.60 339.40L419.26 344.30L413.94 344.30Z" fill="#ff7f0e"/>
<path d="M408.80 345.40L411.46 350.30L406.14 350.30Z" fill="#ff7f0e"/>
<path d="M408.80 354.80L411.46 359.70L406.14 359.70Z" fill="#ff7f0e"/>
<path d="M401.10 362.50L403.76 367.40L398.44 367.40Z" fill="#ff7f0e"/>
<path d="M416.60 362.00L419.26 366.90L413.94 366.90Z" fill="#ff7f0e"/>
<path d="M408.80 380.80L411.46 385.70L406.14 385.70Z" fill="#ff7f0e"/>
<path d="M428.90 480.20L428.90 346.50L448.10 346.50L448.10 480.20" fill="none" stroke="#0cf414" stroke-width="1.15"/>
<line x1="438.50" y1="343.40" x2="438.50" y2="349.60" stroke="#0cf414" stroke-width="1.1"/>
<line x1="433.90" y1="343.40" x2="443.10" y2="343.40" stroke="#0cf414" stroke-width="1.1"/>
<line x1="433.90" y1="349.60" x2="443.10" y2="349.60" stroke="#0cf414" stroke-width="1.1"/>
<path d="M435.50 322.30L438.16 317.40L432.84 317.40Z" fill="#0cf414"/>
<path d="M440.90 322.30L443.56 317.40L438.24 317.40Z" fill="#0cf414"/>
<path d="M435.50 331.80L438.16 326.90L432.84 326.90Z" fill="#0cf414"/>
<path d="M440.90 341.20L443.56 336.30L438.24 336.30Z" fill="#0cf414"/>
<path d="M446.10 341.20L448.76 336.30L443.44 336.30Z" fill="#0cf414"/>
<path d="M435.50 344.20L438.16 339.30L432.84 339.30Z" fill="#0cf414"/>
<path d="M430.70 347.20L433.36 342.30L428.04 342.30Z" fill="#0cf414"/>
<path d="M438.40 347.20L441.06 342.30L435.74 342.30Z" fill="#0cf414"/>
<path d="M443.50 347.20L446.16 342.30L440.84 342.30Z" fill="#0cf414"/>
<path d="M446.10 346.80L448.76 341.90L443.44 341.90Z" fill="#0cf414"/>
<path d="M435.50 349.70L438.16 344.80L432.84 344.80Z" fill="#0cf414"/>
<path d="M440.90 349.70L443.56 344.80L438.24 344.80Z" fill="#0cf414"/>
<path d="M430.70 352.60L433.36 347.70L428.04 347.70Z" fill="#0cf414"/>
<path d="M446.10 352.30L448.76 347.40L443.44 347.40Z" fill="#0cf414"/>
<path d="M435.50 355.70L438.16 350.80L432.84 350.80Z" fill="#0cf414"/>
<path d="M440.90 355.70L443.56 350.80L438.24 350.80Z" fill="#0cf414"/>
<path d="M435.50 363.90L438.16 359.00L432.84 359.00Z" fill="#0cf414"/>
<path d="M435.50 369.10L438.16 364.20L432.84 364.20Z" fill="#0cf414"/>
<path d="M440.90 366.30L443.56 361.40L438.24 361.40Z" fill="#0cf414"/>
<path d="M349.40 315.30L349.40 309.90Q349.40 308.30 351.00 308.30L437.10 308.30Q438.70 308.30 438.70 309.90L438.70 315.30" fill="none" stroke="#2a2a2a" stroke-width="1.05"/>
<line x1="378.30" y1="308.30" x2="378.30" y2="348.20" stroke="#2a2a2a" stroke-width="1.05"/>
<text x="363.60" y="309.80" font-size="19.5" text-anchor="middle" fill="#1d1816" letter-spacing="0.2" stroke="#1d1816" stroke-width="0.25">***</text>
<text x="409.80" y="309.80" font-size="19.5" text-anchor="middle" fill="#1d1816" letter-spacing="0.2" stroke="#1d1816" stroke-width="0.25">***</text>
<text x="497.40" y="260.40" font-size="22" font-weight="bold" fill="#231815">E</text>
<text x="609.70" y="265.60" font-size="14.3" text-anchor="middle" fill="#1d1816">elevated plus maze</text>
<line x1="552.40" y1="298.85" x2="552.40" y2="481.35" stroke="#2c2c2c" stroke-width="1.15"/>
<line x1="551.85" y1="480.80" x2="682.70" y2="480.80" stroke="#2c2c2c" stroke-width="1.15"/>
<line x1="548.20" y1="480.80" x2="552.40" y2="480.80" stroke="#2c2c2c" stroke-width="1.1"/>
<text x="546.30" y="485.30" font-size="12.7" text-anchor="end" fill="#1d1816">0</text>
<line x1="548.20" y1="450.57" x2="552.40" y2="450.57" stroke="#2c2c2c" stroke-width="1.1"/>
<text x="546.30" y="455.07" font-size="12.7" text-anchor="end" fill="#1d1816">20</text>
<line x1="548.20" y1="420.33" x2="552.40" y2="420.33" stroke="#2c2c2c" stroke-width="1.1"/>
<text x="546.30" y="424.83" font-size="12.7" text-anchor="end" fill="#1d1816">40</text>
<line x1="548.20" y1="390.10" x2="552.40" y2="390.10" stroke="#2c2c2c" stroke-width="1.1"/>
<text x="546.30" y="394.60" font-size="12.7" text-anchor="end" fill="#1d1816">60</text>
<line x1="548.20" y1="359.87" x2="552.40" y2="359.87" stroke="#2c2c2c" stroke-width="1.1"/>
<text x="546.30" y="364.37" font-size="12.7" text-anchor="end" fill="#1d1816">80</text>
<line x1="548.20" y1="329.63" x2="552.40" y2="329.63" stroke="#2c2c2c" stroke-width="1.1"/>
<text x="546.30" y="334.13" font-size="12.7" text-anchor="end" fill="#1d1816">100</text>
<line x1="548.20" y1="299.40" x2="552.40" y2="299.40" stroke="#2c2c2c" stroke-width="1.1"/>
<text x="546.30" y="303.90" font-size="12.7" text-anchor="end" fill="#1d1816">120</text>
<text x="521.20" y="393.00" font-size="12.5" text-anchor="middle" fill="#1d1816" transform="rotate(-90 521.20 393.00)">Time in the open arms (s)</text>
<path d="M562.80 480.20L562.80 349.00L581.50 349.00L581.50 480.20" fill="none" stroke="#b818e4" stroke-width="1.15"/>
<line x1="572.15" y1="346.50" x2="572.15" y2="351.10" stroke="#b818e4" stroke-width="1.1"/>
<line x1="567.55" y1="346.50" x2="576.75" y2="346.50" stroke="#b818e4" stroke-width="1.1"/>
<line x1="567.55" y1="351.10" x2="576.75" y2="351.10" stroke="#b818e4" stroke-width="1.1"/>
<circle cx="564.20" cy="339.60" r="1.95" fill="none" stroke="#b818e4" stroke-width="0.95"/>
<circle cx="564.20" cy="343.60" r="1.95" fill="none" stroke="#b818e4" stroke-width="0.95"/>
<circle cx="572.20" cy="343.00" r="1.95" fill="none" stroke="#b818e4" stroke-width="0.95"/>
<circle cx="580.30" cy="343.90" r="1.95" fill="none" stroke="#b818e4" stroke-width="0.95"/>
<circle cx="564.20" cy="349.50" r="1.95" fill="none" stroke="#b818e4" stroke-width="0.95"/>
<circle cx="572.20" cy="348.20" r="1.95" fill="none" stroke="#b818e4" stroke-width="0.95"/>
<circle cx="580.30" cy="349.90" r="1.95" fill="none" stroke="#b818e4" stroke-width="0.95"/>
<circle cx="572.20" cy="353.70" r="1.95" fill="none" stroke="#b818e4" stroke-width="0.95"/>
<circle cx="564.20" cy="357.20" r="1.95" fill="none" stroke="#b818e4" stroke-width="0.95"/>
<circle cx="580.30" cy="356.40" r="1.95" fill="none" stroke="#b818e4" stroke-width="0.95"/>
<path d="M592.80 480.20L592.80 405.00L611.40 405.00L611.40 480.20" fill="none" stroke="#1a1aff" stroke-width="1.15"/>
<line x1="602.10" y1="402.80" x2="602.10" y2="407.20" stroke="#1a1aff" stroke-width="1.1"/>
<line x1="597.50" y1="402.80" x2="606.70" y2="402.80" stroke="#1a1aff" stroke-width="1.1"/>
<line x1="597.50" y1="407.20" x2="606.70" y2="407.20" stroke="#1a1aff" stroke-width="1.1"/>
<circle cx="594.00" cy="391.50" r="1.95" fill="none" stroke="#1a1aff" stroke-width="0.95"/>
<circle cx="599.10" cy="392.30" r="1.95" fill="none" stroke="#1a1aff" stroke-width="0.95"/>
<circle cx="604.40" cy="392.70" r="1.95" fill="none" stroke="#1a1aff" stroke-width="0.95"/>
<circle cx="594.00" cy="397.80" r="1.95" fill="none" stroke="#1a1aff" stroke-width="0.95"/>
<circle cx="609.90" cy="399.50" r="1.95" fill="none" stroke="#1a1aff" stroke-width="0.95"/>
<circle cx="594.00" cy="402.10" r="1.95" fill="none" stroke="#1a1aff" stroke-width="0.95"/>
<circle cx="599.10" cy="401.20" r="1.95" fill="none" stroke="#1a1aff" stroke-width="0.95"/>
<circle cx="604.40" cy="404.30" r="1.95" fill="none" stroke="#1a1aff" stroke-width="0.95"/>
<circle cx="599.10" cy="405.00" r="1.95" fill="none" stroke="#1a1aff" stroke-width="0.95"/>
<circle cx="594.00" cy="407.70" r="1.95" fill="none" stroke="#1a1aff" stroke-width="0.95"/>
<circle cx="602.20" cy="407.70" r="1.95" fill="none" stroke="#1a1aff" stroke-width="0.95"/>
<circle cx="609.90" cy="407.70" r="1.95" fill="none" stroke="#1a1aff" stroke-width="0.95"/>
<circle cx="599.10" cy="411.50" r="1.95" fill="none" stroke="#1a1aff" stroke-width="0.95"/>
<circle cx="604.40" cy="413.50" r="1.95" fill="none" stroke="#1a1aff" stroke-width="0.95"/>
<circle cx="599.10" cy="417.50" r="1.95" fill="none" stroke="#1a1aff" stroke-width="0.95"/>
<circle cx="599.10" cy="423.10" r="1.95" fill="none" stroke="#1a1aff" stroke-width="0.95"/>
<path d="M622.00 480.20L622.00 349.00L641.00 349.00L641.00 480.20" fill="none" stroke="#ff7f0e" stroke-width="1.15"/>
<line x1="631.50" y1="346.10" x2="631.50" y2="351.60" stroke="#ff7f0e" stroke-width="1.1"/>
<line x1="626.90" y1="346.10" x2="636.10" y2="346.10" stroke="#ff7f0e" stroke-width="1.1"/>
<line x1="626.90" y1="351.60" x2="636.10" y2="351.60" stroke="#ff7f0e" stroke-width="1.1"/>
<path d="M631.60 327.90L634.26 332.80L628.94 332.80Z" fill="#ff7f0e"/>
<path d="M627.90 334.30L630.56 339.20L625.24 339.20Z" fill="#ff7f0e"/>
<path d="M631.60 335.60L634.26 340.50L628.94 340.50Z" fill="#ff7f0e"/>
<path d="M635.60 338.00L638.26 342.90L632.94 342.90Z" fill="#ff7f0e"/>
<path d="M631.60 341.60L634.26 346.50L628.94 346.50Z" fill="#ff7f0e"/>
<path d="M627.90 347.10L630.56 352.00L625.24 352.00Z" fill="#ff7f0e"/>
<path d="M623.60 351.90L626.26 356.80L620.94 356.80Z" fill="#ff7f0e"/>
<path d="M627.90 352.20L630.56 357.10L625.24 357.10Z" fill="#ff7f0e"/>
<path d="M631.60 351.90L634.26 356.80L628.94 356.80Z" fill="#ff7f0e"/>
<path d="M635.60 350.90L638.26 355.80L632.94 355.80Z" fill="#ff7f0e"/>
<path d="M639.30 353.10L641.96 358.00L636.64 358.00Z" fill="#ff7f0e"/>
<path d="M635.60 355.60L638.26 360.50L632.94 360.50Z" fill="#ff7f0e"/>
<path d="M631.60 360.40L634.26 365.30L628.94 365.30Z" fill="#ff7f0e"/>
<path d="M652.00 480.20L652.00 355.00L670.60 355.00L670.60 480.20" fill="none" stroke="#0cf414" stroke-width="1.15"/>
<line x1="661.30" y1="353.20" x2="661.30" y2="356.80" stroke="#0cf414" stroke-width="1.1"/>
<line x1="656.70" y1="353.20" x2="665.90" y2="353.20" stroke="#0cf414" stroke-width="1.1"/>
<line x1="656.70" y1="356.80" x2="665.90" y2="356.80" stroke="#0cf414" stroke-width="1.1"/>
<path d="M656.60 345.10L659.26 340.20L653.94 340.20Z" fill="#0cf414"/>
<path d="M660.00 345.10L662.66 340.20L657.34 340.20Z" fill="#0cf414"/>
<path d="M656.10 351.40L658.76 346.50L653.44 346.50Z" fill="#0cf414"/>
<path d="M660.00 352.30L662.66 347.40L657.34 347.40Z" fill="#0cf414"/>
<path d="M666.00 350.60L668.66 345.70L663.34 345.70Z" fill="#0cf414"/>
<path d="M669.30 352.60L671.96 347.70L666.64 347.70Z" fill="#0cf414"/>
<path d="M652.70 357.40L655.36 352.50L650.04 352.50Z" fill="#0cf414"/>
<path d="M656.10 356.60L658.76 351.70L653.44 351.70Z" fill="#0cf414"/>
<path d="M660.00 357.40L662.66 352.50L657.34 352.50Z" fill="#0cf414"/>
<path d="M663.80 356.60L666.46 351.70L661.14 351.70Z" fill="#0cf414"/>
<path d="M667.20 357.80L669.86 352.90L664.54 352.90Z" fill="#0cf414"/>
<path d="M669.30 356.60L671.96 351.70L666.64 351.70Z" fill="#0cf414"/>
<path d="M654.40 360.00L657.06 355.10L651.74 355.10Z" fill="#0cf414"/>
<path d="M658.70 360.00L661.36 355.10L656.04 355.10Z" fill="#0cf414"/>
<path d="M662.90 360.80L665.56 355.90L660.24 355.90Z" fill="#0cf414"/>
<path d="M666.40 360.00L669.06 355.10L663.74 355.10Z" fill="#0cf414"/>
<path d="M662.90 369.70L665.56 364.80L660.24 364.80Z" fill="#0cf414"/>
<path d="M660.00 372.00L662.66 367.10L657.34 367.10Z" fill="#0cf414"/>
<path d="M571.40 318.70L571.40 313.50Q571.40 311.90 573.00 311.90L659.10 311.90Q660.70 311.90 660.70 313.50L660.70 318.70" fill="none" stroke="#2a2a2a" stroke-width="1.05"/>
<line x1="600.70" y1="311.90" x2="600.70" y2="351.60" stroke="#2a2a2a" stroke-width="1.05"/>
<text x="585.90" y="313.60" font-size="19.5" text-anchor="middle" fill="#1d1816" letter-spacing="0.2" stroke="#1d1816" stroke-width="0.25">***</text>
<text x="632.10" y="313.60" font-size="19.5" text-anchor="middle" fill="#1d1816" letter-spacing="0.2" stroke="#1d1816" stroke-width="0.25">***</text>
<defs><filter id="bl1" x="-30%" y="-80%" width="160%" height="260%"><feGaussianBlur stdDeviation="1.35 1.1"/></filter><filter id="bl2" x="-30%" y="-150%" width="160%" height="400%"><feGaussianBlur stdDeviation="2.2 1.6"/></filter><filter id="bl3" x="-50%" y="-10%" width="200%" height="120%"><feGaussianBlur stdDeviation="2.4 3"/></filter><linearGradient id="pg" x1="0" y1="0" x2="0" y2="1"><stop offset="0" stop-color="#bababc"/><stop offset="0.5" stop-color="#b4b4b6"/><stop offset="1" stop-color="#b1b1b3"/></linearGradient><clipPath id="pc"><rect x="47.6" y="655.6" width="146.2" height="176.6"/></clipPath><filter id="bl6" x="-30%" y="-80%" width="160%" height="260%"><feGaussianBlur stdDeviation="1.9 1.5"/></filter><filter id="bl4" x="-40%" y="-10%" width="180%" height="120%"><feGaussianBlur stdDeviation="1.5 3.5"/></filter><filter id="bl5" x="-40%" y="-150%" width="180%" height="400%"><feGaussianBlur stdDeviation="1.3 1.9"/></filter><linearGradient id="lg" x1="0" y1="0" x2="0" y2="1"><stop offset="0" stop-color="#9c9c9c" stop-opacity="0.85"/><stop offset="0.55" stop-color="#8e8e8e" stop-opacity="0.85"/><stop offset="0.85" stop-color="#9a9a9a" stop-opacity="0.7"/><stop offset="1" stop-color="#a8a8a8" stop-opacity="0.3"/></linearGradient></defs>
<text x="8.00" y="530.70" font-size="22" font-weight="bold" fill="#231815">F1</text>
<rect x="76.40" y="525.20" width="19.80" height="12.60" fill="#000"/>
<text x="62.60" y="535.90" font-size="12.4" text-anchor="middle" fill="#1d1816">WT</text>
<text x="86.30" y="535.90" font-size="12.4" text-anchor="middle" fill="#fff">TG</text>
<text x="112.00" y="535.90" font-size="12.4" text-anchor="middle" fill="#ff7f0e">WT</text>
<text x="133.80" y="535.90" font-size="12.4" text-anchor="middle" fill="#0cf414">TG</text>
<text x="155.40" y="535.90" font-size="12.4" text-anchor="middle" fill="#c11fe0">WT</text>
<text x="177.60" y="535.90" font-size="12.4" text-anchor="middle" fill="#1a2bff">TG</text>
<text x="45.20" y="549.00" font-size="12.4" text-anchor="end" fill="#1d1816">FC</text>
<text x="45.20" y="565.00" font-size="12.4" text-anchor="end" fill="#1d1816">Ext</text>
<line x1="59.90" y1="545.70" x2="64.90" y2="545.70" stroke="#1d1816" stroke-width="1.5"/>
<line x1="59.90" y1="561.70" x2="64.90" y2="561.70" stroke="#1d1816" stroke-width="1.5"/>
<line x1="84.50" y1="545.70" x2="89.50" y2="545.70" stroke="#1d1816" stroke-width="1.5"/>
<line x1="84.50" y1="561.70" x2="89.50" y2="561.70" stroke="#1d1816" stroke-width="1.5"/>
<line x1="106.90" y1="545.40" x2="113.10" y2="545.40" stroke="#ff7f0e" stroke-width="1.15"/>
<line x1="110.00" y1="542.30" x2="110.00" y2="548.50" stroke="#ff7f0e" stroke-width="1.15"/>
<line x1="107.50" y1="561.70" x2="112.50" y2="561.70" stroke="#ff7f0e" stroke-width="1.5"/>
<line x1="129.20" y1="545.40" x2="135.40" y2="545.40" stroke="#0cf414" stroke-width="1.15"/>
<line x1="132.30" y1="542.30" x2="132.30" y2="548.50" stroke="#0cf414" stroke-width="1.15"/>
<line x1="129.80" y1="561.70" x2="134.80" y2="561.70" stroke="#0cf414" stroke-width="1.5"/>
<line x1="152.00" y1="545.40" x2="158.20" y2="545.40" stroke="#c11fe0" stroke-width="1.15"/>
<line x1="155.10" y1="542.30" x2="155.10" y2="548.50" stroke="#c11fe0" stroke-width="1.15"/>
<line x1="152.00" y1="561.40" x2="158.20" y2="561.40" stroke="#c11fe0" stroke-width="1.15"/>
<line x1="155.10" y1="558.30" x2="155.10" y2="564.50" stroke="#c11fe0" stroke-width="1.15"/>
<line x1="174.80" y1="545.40" x2="181.00" y2="545.40" stroke="#1a2bff" stroke-width="1.15"/>
<line x1="177.90" y1="542.30" x2="177.90" y2="548.50" stroke="#1a2bff" stroke-width="1.15"/>
<line x1="174.80" y1="561.40" x2="181.00" y2="561.40" stroke="#1a2bff" stroke-width="1.15"/>
<line x1="177.90" y1="558.30" x2="177.90" y2="564.50" stroke="#1a2bff" stroke-width="1.15"/>
<text x="210.00" y="547.00" font-size="12.4" text-anchor="middle" fill="#1d1816">MW</text>
<text x="210.00" y="561.80" font-size="12.4" text-anchor="middle" fill="#1d1816">(KDa)</text>
<text x="45.40" y="580.80" font-size="12.4" text-anchor="end" fill="#1d1816">GluA1</text>
<text x="45.40" y="599.00" font-size="12.4" text-anchor="end" fill="#1d1816">GluA2</text>
<text x="45.40" y="613.20" font-size="12.4" text-anchor="end" fill="#1d1816">pGluA1</text>
<text x="45.40" y="624.40" font-size="12.4" text-anchor="end" fill="#1d1816">-Ser845</text>
<text x="45.40" y="638.60" font-size="12.4" text-anchor="end" fill="#1d1816">pGluA1</text>
<text x="45.40" y="650.00" font-size="12.4" text-anchor="end" fill="#1d1816">-Ser831</text>
<clipPath id="bc0"><rect x="48.0" y="568.4" width="145.6" height="18.20"/></clipPath>
<rect x="48.00" y="568.40" width="145.60" height="18.20" fill="#efefef"/>
<g clip-path="url(#bc0)">
<ellipse cx="61.5" cy="577.80" rx="10.2" ry="5.5" fill="#000" opacity="0.07" filter="url(#bl2)"/>
<rect x="53.30" y="574.50" width="16.40" height="6.60" fill="#000" rx="1.6" opacity="0.33" filter="url(#bl6)"/>
<ellipse cx="85.0" cy="577.80" rx="10.2" ry="5.5" fill="#000" opacity="0.07" filter="url(#bl2)"/>
<rect x="76.80" y="574.50" width="16.40" height="6.60" fill="#000" rx="1.6" opacity="0.30" filter="url(#bl6)"/>
<ellipse cx="111.5" cy="577.80" rx="10.8" ry="5.8" fill="#000" opacity="0.19" filter="url(#bl2)"/>
<rect x="102.70" y="574.20" width="17.60" height="7.20" fill="#000" rx="1.6" opacity="0.88" filter="url(#bl1)"/>
<ellipse cx="133.8" cy="577.80" rx="10.8" ry="5.8" fill="#000" opacity="0.18" filter="url(#bl2)"/>
<rect x="125.00" y="574.20" width="17.60" height="7.20" fill="#000" rx="1.6" opacity="0.82" filter="url(#bl1)"/>
<ellipse cx="155.6" cy="577.80" rx="10.2" ry="5.5" fill="#000" opacity="0.08" filter="url(#bl2)"/>
<rect x="147.40" y="574.50" width="16.40" height="6.60" fill="#000" rx="1.6" opacity="0.36" filter="url(#bl6)"/>
<ellipse cx="178.8" cy="577.80" rx="10.8" ry="5.8" fill="#000" opacity="0.21" filter="url(#bl2)"/>
<rect x="170.00" y="574.20" width="17.60" height="7.20" fill="#000" rx="1.6" opacity="0.99" filter="url(#bl1)"/>
</g>
<rect x="48.00" y="568.40" width="145.60" height="18.20" fill="none" stroke="#555" stroke-width="0.8"/>
<clipPath id="bc1"><rect x="48.0" y="588.3" width="145.6" height="18.10"/></clipPath>
<rect x="48.00" y="588.30" width="145.60" height="18.10" fill="#efefef"/>
<g clip-path="url(#bc1)">
<ellipse cx="61.5" cy="598.35" rx="10.2" ry="5.5" fill="#000" opacity="0.07" filter="url(#bl2)"/>
<rect x="53.30" y="595.05" width="16.40" height="6.60" fill="#000" rx="1.6" opacity="0.33" filter="url(#bl6)"/>
<ellipse cx="85.0" cy="598.35" rx="10.2" ry="5.5" fill="#000" opacity="0.05" filter="url(#bl2)"/>
<rect x="76.80" y="595.05" width="16.40" height="6.60" fill="#000" rx="1.6" opacity="0.24" filter="url(#bl6)"/>
<ellipse cx="111.5" cy="598.35" rx="10.8" ry="5.8" fill="#000" opacity="0.18" filter="url(#bl2)"/>
<rect x="102.70" y="594.75" width="17.60" height="7.20" fill="#000" rx="1.6" opacity="0.86" filter="url(#bl1)"/>
<ellipse cx="133.8" cy="598.35" rx="10.8" ry="5.8" fill="#000" opacity="0.19" filter="url(#bl2)"/>
<rect x="125.00" y="594.75" width="17.60" height="7.20" fill="#000" rx="1.6" opacity="0.90" filter="url(#bl1)"/>
<ellipse cx="155.6" cy="598.35" rx="10.2" ry="5.5" fill="#000" opacity="0.03" filter="url(#bl2)"/>
<rect x="147.40" y="595.05" width="16.40" height="6.60" fill="#000" rx="1.6" opacity="0.12" filter="url(#bl6)"/>
<ellipse cx="178.8" cy="598.35" rx="10.8" ry="5.8" fill="#000" opacity="0.21" filter="url(#bl2)"/>
<rect x="170.00" y="594.75" width="17.60" height="7.20" fill="#000" rx="1.6" opacity="0.97" filter="url(#bl1)"/>
</g>
<rect x="48.00" y="588.30" width="145.60" height="18.10" fill="none" stroke="#555" stroke-width="0.8"/>
<clipPath id="bc2"><rect x="48.0" y="608.0" width="145.6" height="18.20"/></clipPath>
<rect x="48.00" y="608.00" width="145.60" height="18.20" fill="#efefef"/>
<g clip-path="url(#bc2)">
<ellipse cx="61.5" cy="616.90" rx="10.2" ry="5.5" fill="#000" opacity="0.06" filter="url(#bl2)"/>
<rect x="53.30" y="613.60" width="16.40" height="6.60" fill="#000" rx="1.6" opacity="0.28" filter="url(#bl6)"/>
<ellipse cx="85.0" cy="616.90" rx="10.2" ry="5.5" fill="#000" opacity="0.04" filter="url(#bl2)"/>
<rect x="76.80" y="613.60" width="16.40" height="6.60" fill="#000" rx="1.6" opacity="0.18" filter="url(#bl6)"/>
<ellipse cx="111.5" cy="616.90" rx="10.8" ry="5.8" fill="#000" opacity="0.21" filter="url(#bl2)"/>
<rect x="102.70" y="613.30" width="17.60" height="7.20" fill="#000" rx="1.6" opacity="0.99" filter="url(#bl1)"/>
<ellipse cx="133.8" cy="616.90" rx="10.8" ry="5.8" fill="#000" opacity="0.21" filter="url(#bl2)"/>
<rect x="125.00" y="613.30" width="17.60" height="7.20" fill="#000" rx="1.6" opacity="0.97" filter="url(#bl1)"/>
<ellipse cx="155.6" cy="616.90" rx="10.2" ry="5.5" fill="#000" opacity="0.07" filter="url(#bl2)"/>
<rect x="147.40" y="613.60" width="16.40" height="6.60" fill="#000" rx="1.6" opacity="0.30" filter="url(#bl6)"/>
<ellipse cx="178.8" cy="617.90" rx="10.8" ry="5.8" fill="#000" opacity="0.20" filter="url(#bl2)"/>
<rect x="170.00" y="614.30" width="17.60" height="7.20" fill="#000" rx="1.6" opacity="0.94" filter="url(#bl1)"/>
</g>
<rect x="48.00" y="608.00" width="145.60" height="18.20" fill="none" stroke="#555" stroke-width="0.8"/>
<clipPath id="bc3"><rect x="48.0" y="627.8" width="145.6" height="17.60"/></clipPath>
<rect x="48.00" y="627.80" width="145.60" height="17.60" fill="#efefef"/>
<g clip-path="url(#bc3)">
<ellipse cx="61.5" cy="636.80" rx="10.2" ry="5.5" fill="#000" opacity="0.06" filter="url(#bl2)"/>
<rect x="53.30" y="633.50" width="16.40" height="6.60" fill="#000" rx="1.6" opacity="0.27" filter="url(#bl6)"/>
<ellipse cx="85.0" cy="636.80" rx="10.2" ry="5.5" fill="#000" opacity="0.08" filter="url(#bl2)"/>
<rect x="76.80" y="633.50" width="16.40" height="6.60" fill="#000" rx="1.6" opacity="0.38" filter="url(#bl6)"/>
<ellipse cx="111.5" cy="636.80" rx="10.8" ry="5.8" fill="#000" opacity="0.19" filter="url(#bl2)"/>
<rect x="102.70" y="633.20" width="17.60" height="7.20" fill="#000" rx="1.6" opacity="0.90" filter="url(#bl1)"/>
<ellipse cx="133.8" cy="636.80" rx="10.8" ry="5.8" fill="#000" opacity="0.20" filter="url(#bl2)"/>
<rect x="125.00" y="633.20" width="17.60" height="7.20" fill="#000" rx="1.6" opacity="0.92" filter="url(#bl1)"/>
<ellipse cx="155.6" cy="636.80" rx="10.2" ry="5.5" fill="#000" opacity="0.06" filter="url(#bl2)"/>
<rect x="147.40" y="633.50" width="16.40" height="6.60" fill="#000" rx="1.6" opacity="0.25" filter="url(#bl6)"/>
<ellipse cx="178.8" cy="636.80" rx="10.8" ry="5.8" fill="#000" opacity="0.20" filter="url(#bl2)"/>
<rect x="170.00" y="633.20" width="17.60" height="7.20" fill="#000" rx="1.6" opacity="0.92" filter="url(#bl1)"/>
</g>
<rect x="48.00" y="627.80" width="145.60" height="17.60" fill="none" stroke="#555" stroke-width="0.8"/>
<text x="196.60" y="587.20" font-size="12.4" fill="#1d1816">–100</text>
<text x="196.60" y="607.40" font-size="12.4" fill="#1d1816">–100</text>
<text x="196.60" y="625.20" font-size="12.4" fill="#1d1816">–100</text>
<text x="196.60" y="645.00" font-size="12.4" fill="#1d1816">–100</text>
<rect x="47.60" y="655.60" width="146.20" height="176.60" fill="url(#pg)"/>
<g clip-path="url(#pc)">
<rect x="53.90" y="662.50" width="17.40" height="156.00" fill="url(#lg)" filter="url(#bl4)"/>
<rect x="77.60" y="662.50" width="17.40" height="164.00" fill="url(#lg)" filter="url(#bl4)"/>
<rect x="101.20" y="662.50" width="17.40" height="156.00" fill="url(#lg)" filter="url(#bl4)"/>
<rect x="124.90" y="662.50" width="17.40" height="152.00" fill="url(#lg)" filter="url(#bl4)"/>
<rect x="148.50" y="662.50" width="17.40" height="146.00" fill="url(#lg)" filter="url(#bl4)"/>
<rect x="172.10" y="662.50" width="17.40" height="158.00" fill="url(#lg)" filter="url(#bl4)"/>
<rect x="54.10" y="664.50" width="17.00" height="5.00" fill="#404044" opacity="0.07" filter="url(#bl5)"/>
<rect x="77.80" y="664.50" width="17.00" height="5.00" fill="#404044" opacity="0.07" filter="url(#bl5)"/>
<rect x="101.40" y="664.50" width="17.00" height="5.00" fill="#404044" opacity="0.05" filter="url(#bl5)"/>
<rect x="125.10" y="664.50" width="17.00" height="5.00" fill="#404044" opacity="0.07" filter="url(#bl5)"/>
<rect x="148.70" y="664.50" width="17.00" height="5.00" fill="#404044" opacity="0.05" filter="url(#bl5)"/>
<rect x="172.30" y="664.50" width="17.00" height="5.00" fill="#404044" opacity="0.07" filter="url(#bl5)"/>
<rect x="54.10" y="682.00" width="17.00" height="7.00" fill="#404044" opacity="0.22" filter="url(#bl5)"/>
<rect x="77.80" y="682.00" width="17.00" height="7.00" fill="#404044" opacity="0.21" filter="url(#bl5)"/>
<rect x="101.40" y="682.00" width="17.00" height="7.00" fill="#404044" opacity="0.16" filter="url(#bl5)"/>
<rect x="125.10" y="682.00" width="17.00" height="7.00" fill="#404044" opacity="0.22" filter="url(#bl5)"/>
<rect x="148.70" y="682.00" width="17.00" height="7.00" fill="#404044" opacity="0.16" filter="url(#bl5)"/>
<rect x="172.30" y="682.00" width="17.00" height="7.00" fill="#404044" opacity="0.21" filter="url(#bl5)"/>
<rect x="54.10" y="697.50" width="17.00" height="7.00" fill="#404044" opacity="0.07" filter="url(#bl5)"/>
<rect x="77.80" y="697.50" width="17.00" height="7.00" fill="#404044" opacity="0.07" filter="url(#bl5)"/>
<rect x="101.40" y="697.50" width="17.00" height="7.00" fill="#404044" opacity="0.05" filter="url(#bl5)"/>
<rect x="125.10" y="697.50" width="17.00" height="7.00" fill="#404044" opacity="0.07" filter="url(#bl5)"/>
<rect x="148.70" y="697.50" width="17.00" height="7.00" fill="#404044" opacity="0.05" filter="url(#bl5)"/>
<rect x="172.30" y="697.50" width="17.00" height="7.00" fill="#404044" opacity="0.07" filter="url(#bl5)"/>
<rect x="54.10" y="712.50" width="17.00" height="7.00" fill="#404044" opacity="0.07" filter="url(#bl5)"/>
<rect x="77.80" y="712.50" width="17.00" height="7.00" fill="#404044" opacity="0.07" filter="url(#bl5)"/>
<rect x="101.40" y="712.50" width="17.00" height="7.00" fill="#404044" opacity="0.05" filter="url(#bl5)"/>
<rect x="125.10" y="712.50" width="17.00" height="7.00" fill="#404044" opacity="0.07" filter="url(#bl5)"/>
<rect x="148.70" y="712.50" width="17.00" height="7.00" fill="#404044" opacity="0.05" filter="url(#bl5)"/>
<rect x="172.30" y="712.50" width="17.00" height="7.00" fill="#404044" opacity="0.07" filter="url(#bl5)"/>
<rect x="54.10" y="733.40" width="17.00" height="5.60" fill="#404044" opacity="0.66" filter="url(#bl5)"/>
<rect x="77.80" y="733.40" width="17.00" height="5.60" fill="#404044" opacity="0.63" filter="url(#bl5)"/>
<rect x="101.40" y="733.40" width="17.00" height="5.60" fill="#404044" opacity="0.48" filter="url(#bl5)"/>
<rect x="125.10" y="733.40" width="17.00" height="5.60" fill="#404044" opacity="0.66" filter="url(#bl5)"/>
<rect x="148.70" y="733.40" width="17.00" height="5.60" fill="#404044" opacity="0.48" filter="url(#bl5)"/>
<rect x="172.30" y="733.40" width="17.00" height="5.60" fill="#404044" opacity="0.63" filter="url(#bl5)"/>
<rect x="54.10" y="748.30" width="17.00" height="6.40" fill="#404044" opacity="0.20" filter="url(#bl5)"/>
<rect x="77.80" y="748.30" width="17.00" height="6.40" fill="#404044" opacity="0.19" filter="url(#bl5)"/>
<rect x="101.40" y="748.30" width="17.00" height="6.40" fill="#404044" opacity="0.14" filter="url(#bl5)"/>
<rect x="125.10" y="748.30" width="17.00" height="6.40" fill="#404044" opacity="0.20" filter="url(#bl5)"/>
<rect x="148.70" y="748.30" width="17.00" height="6.40" fill="#404044" opacity="0.14" filter="url(#bl5)"/>
<rect x="172.30" y="748.30" width="17.00" height="6.40" fill="#404044" opacity="0.19" filter="url(#bl5)"/>
<rect x="54.10" y="768.70" width="17.00" height="5.60" fill="#404044" opacity="0.17" filter="url(#bl5)"/>
<rect x="77.80" y="768.70" width="17.00" height="5.60" fill="#404044" opacity="0.16" filter="url(#bl5)"/>
<rect x="101.40" y="768.70" width="17.00" height="5.60" fill="#404044" opacity="0.12" filter="url(#bl5)"/>
<rect x="125.10" y="768.70" width="17.00" height="5.60" fill="#404044" opacity="0.17" filter="url(#bl5)"/>
<rect x="148.70" y="768.70" width="17.00" height="5.60" fill="#404044" opacity="0.12" filter="url(#bl5)"/>
<rect x="172.30" y="768.70" width="17.00" height="5.60" fill="#404044" opacity="0.16" filter="url(#bl5)"/>
<rect x="54.10" y="784.70" width="17.00" height="5.60" fill="#404044" opacity="0.12" filter="url(#bl5)"/>
<rect x="77.80" y="784.70" width="17.00" height="5.60" fill="#404044" opacity="0.11" filter="url(#bl5)"/>
<rect x="101.40" y="784.70" width="17.00" height="5.60" fill="#404044" opacity="0.09" filter="url(#bl5)"/>
<rect x="125.10" y="784.70" width="17.00" height="5.60" fill="#404044" opacity="0.12" filter="url(#bl5)"/>
<rect x="148.70" y="784.70" width="17.00" height="5.60" fill="#404044" opacity="0.09" filter="url(#bl5)"/>
<rect x="172.30" y="784.70" width="17.00" height="5.60" fill="#404044" opacity="0.11" filter="url(#bl5)"/>
</g>
<rect x="47.60" y="655.60" width="146.20" height="176.60" fill="none" stroke="#6e6e6e" stroke-width="0.9"/>
<text x="41.60" y="744.60" font-size="12.4" text-anchor="middle" fill="#1d1816" transform="rotate(-90 41.60 744.60)">Ponceau S staining</text>
<text x="228.60" y="530.40" font-size="22" font-weight="bold" fill="#231815">F2</text>
<line x1="262.00" y1="538.20" x2="262.00" y2="804.00" stroke="#262626" stroke-width="1.05"/>
<line x1="261.50" y1="803.50" x2="439.30" y2="803.50" stroke="#262626" stroke-width="1.05"/>
<line x1="259.00" y1="803.50" x2="262.00" y2="803.50" stroke="#262626" stroke-width="1.0"/>
<text x="257.60" y="808.00" font-size="12.6" text-anchor="end" fill="#1d1816">0</text>
<line x1="259.00" y1="737.30" x2="262.00" y2="737.30" stroke="#262626" stroke-width="1.0"/>
<text x="257.60" y="741.80" font-size="12.6" text-anchor="end" fill="#1d1816">1</text>
<line x1="259.00" y1="671.10" x2="262.00" y2="671.10" stroke="#262626" stroke-width="1.0"/>
<text x="257.60" y="675.60" font-size="12.6" text-anchor="end" fill="#1d1816">2</text>
<line x1="259.00" y1="604.90" x2="262.00" y2="604.90" stroke="#262626" stroke-width="1.0"/>
<text x="257.60" y="609.40" font-size="12.6" text-anchor="end" fill="#1d1816">3</text>
<line x1="259.00" y1="538.70" x2="262.00" y2="538.70" stroke="#262626" stroke-width="1.0"/>
<text x="257.60" y="543.20" font-size="12.6" text-anchor="end" fill="#1d1816">4</text>
<text x="247.20" y="668.00" font-size="12.7" text-anchor="middle" fill="#1d1816" transform="rotate(-90 247.20 668.00)">Fold change vs. WT</text>
<rect x="268.10" y="533.60" width="5.20" height="6.60" fill="#fff" stroke="#111" stroke-width="0.9"/>
<text x="275.40" y="541.60" font-size="12.4" fill="#1d1816">WT</text>
<rect x="267.60" y="546.90" width="6.20" height="6.40" fill="#000"/>
<text x="275.40" y="555.00" font-size="12.4" fill="#1d1816">TG</text>
<rect x="309.20" y="533.40" width="6.10" height="7.20" fill="#ff9a3c"/>
<text x="317.60" y="541.60" font-size="12.4" fill="#1d1816">WT + FC</text>
<rect x="309.20" y="547.20" width="6.10" height="7.20" fill="#0cf414"/>
<text x="317.60" y="555.00" font-size="12.4" fill="#1d1816">TG + FC</text>
<rect x="379.20" y="533.40" width="6.10" height="7.20" fill="#b400dc"/>
<text x="387.80" y="541.60" font-size="12.4" fill="#1d1816">WT + Ext</text>
<rect x="379.20" y="547.20" width="6.10" height="7.20" fill="#0a1cff"/>
<text x="387.80" y="555.00" font-size="12.4" fill="#1d1816">TG + Ext</text>
<line x1="267.95" y1="733.59" x2="267.95" y2="737.96" stroke="#333" stroke-width="0.9"/>
<line x1="266.45" y1="733.59" x2="269.45" y2="733.59" stroke="#333" stroke-width="0.9"/>
<rect x="265.45" y="737.96" width="5.00" height="65.14" fill="#fff" stroke="#111" stroke-width="0.9"/>
<line x1="274.47" y1="741.27" x2="274.47" y2="746.04" stroke="#333" stroke-width="0.9"/>
<line x1="272.97" y1="741.27" x2="275.97" y2="741.27" stroke="#333" stroke-width="0.9"/>
<rect x="271.52" y="746.04" width="5.90" height="56.96" fill="#000"/>
<line x1="280.99" y1="624.43" x2="280.99" y2="646.01" stroke="#ff9a4a" stroke-width="0.9"/>
<line x1="279.49" y1="624.43" x2="282.49" y2="624.43" stroke="#ff9a4a" stroke-width="0.9"/>
<rect x="278.04" y="646.01" width="5.90" height="156.99" fill="#ff8000"/>
<line x1="287.51" y1="624.10" x2="287.51" y2="648.13" stroke="#22e22a" stroke-width="0.9"/>
<line x1="286.01" y1="624.10" x2="289.01" y2="624.10" stroke="#22e22a" stroke-width="0.9"/>
<rect x="284.56" y="648.13" width="5.90" height="154.87" fill="#00fa08"/>
<line x1="294.03" y1="745.58" x2="294.03" y2="755.84" stroke="#c94be6" stroke-width="0.9"/>
<line x1="292.53" y1="745.58" x2="295.53" y2="745.58" stroke="#c94be6" stroke-width="0.9"/>
<rect x="291.08" y="755.84" width="5.90" height="47.16" fill="#aa00e6"/>
<line x1="300.55" y1="631.38" x2="300.55" y2="650.25" stroke="#4a4aff" stroke-width="0.9"/>
<line x1="299.05" y1="631.38" x2="302.05" y2="631.38" stroke="#4a4aff" stroke-width="0.9"/>
<rect x="297.60" y="650.25" width="5.90" height="152.75" fill="#0000ff"/>
<line x1="312.25" y1="733.33" x2="312.25" y2="737.30" stroke="#333" stroke-width="0.9"/>
<line x1="310.75" y1="733.33" x2="313.75" y2="733.33" stroke="#333" stroke-width="0.9"/>
<rect x="309.75" y="737.30" width="5.00" height="65.80" fill="#fff" stroke="#111" stroke-width="0.9"/>
<line x1="318.77" y1="726.31" x2="318.77" y2="734.19" stroke="#333" stroke-width="0.9"/>
<line x1="317.27" y1="726.31" x2="320.27" y2="726.31" stroke="#333" stroke-width="0.9"/>
<rect x="315.82" y="734.19" width="5.90" height="68.81" fill="#000"/>
<line x1="325.29" y1="635.35" x2="325.29" y2="649.25" stroke="#ff9a4a" stroke-width="0.9"/>
<line x1="323.79" y1="635.35" x2="326.79" y2="635.35" stroke="#ff9a4a" stroke-width="0.9"/>
<rect x="322.34" y="649.25" width="5.90" height="153.75" fill="#ff8000"/>
<line x1="331.81" y1="645.28" x2="331.81" y2="655.21" stroke="#22e22a" stroke-width="0.9"/>
<line x1="330.31" y1="645.28" x2="333.31" y2="645.28" stroke="#22e22a" stroke-width="0.9"/>
<rect x="328.86" y="655.21" width="5.90" height="147.79" fill="#00fa08"/>
<line x1="338.33" y1="728.36" x2="338.33" y2="737.30" stroke="#c94be6" stroke-width="0.9"/>
<line x1="336.83" y1="728.36" x2="339.83" y2="728.36" stroke="#c94be6" stroke-width="0.9"/>
<rect x="335.38" y="737.30" width="5.90" height="65.70" fill="#aa00e6"/>
<line x1="344.85" y1="629.39" x2="344.85" y2="655.21" stroke="#4a4aff" stroke-width="0.9"/>
<line x1="343.35" y1="629.39" x2="346.35" y2="629.39" stroke="#4a4aff" stroke-width="0.9"/>
<rect x="341.90" y="655.21" width="5.90" height="147.79" fill="#0000ff"/>
<line x1="356.75" y1="733.99" x2="356.75" y2="738.29" stroke="#333" stroke-width="0.9"/>
<line x1="355.25" y1="733.99" x2="358.25" y2="733.99" stroke="#333" stroke-width="0.9"/>
<rect x="354.25" y="738.29" width="5.00" height="64.81" fill="#fff" stroke="#111" stroke-width="0.9"/>
<line x1="363.27" y1="731.47" x2="363.27" y2="738.62" stroke="#333" stroke-width="0.9"/>
<line x1="361.77" y1="731.47" x2="364.77" y2="731.47" stroke="#333" stroke-width="0.9"/>
<rect x="360.32" y="738.62" width="5.90" height="64.38" fill="#000"/>
<line x1="369.79" y1="656.54" x2="369.79" y2="671.10" stroke="#ff9a4a" stroke-width="0.9"/>
<line x1="368.29" y1="656.54" x2="371.29" y2="656.54" stroke="#ff9a4a" stroke-width="0.9"/>
<rect x="366.84" y="671.10" width="5.90" height="131.90" fill="#ff8000"/>
<line x1="376.31" y1="648.33" x2="376.31" y2="660.04" stroke="#22e22a" stroke-width="0.9"/>
<line x1="374.81" y1="648.33" x2="377.81" y2="648.33" stroke="#22e22a" stroke-width="0.9"/>
<rect x="373.36" y="660.04" width="5.90" height="142.96" fill="#00fa08"/>
<line x1="382.83" y1="722.07" x2="382.83" y2="729.49" stroke="#c94be6" stroke-width="0.9"/>
<line x1="381.33" y1="722.07" x2="384.33" y2="722.07" stroke="#c94be6" stroke-width="0.9"/>
<rect x="379.88" y="729.49" width="5.90" height="73.51" fill="#aa00e6"/>
<line x1="389.35" y1="649.25" x2="389.35" y2="669.11" stroke="#4a4aff" stroke-width="0.9"/>
<line x1="387.85" y1="649.25" x2="390.85" y2="649.25" stroke="#4a4aff" stroke-width="0.9"/>
<rect x="386.40" y="669.11" width="5.90" height="133.89" fill="#0000ff"/>
<line x1="401.15" y1="733.59" x2="401.15" y2="737.96" stroke="#333" stroke-width="0.9"/>
<line x1="399.65" y1="733.59" x2="402.65" y2="733.59" stroke="#333" stroke-width="0.9"/>
<rect x="398.65" y="737.96" width="5.00" height="65.14" fill="#fff" stroke="#111" stroke-width="0.9"/>
<line x1="407.67" y1="733.00" x2="407.67" y2="742.33" stroke="#333" stroke-width="0.9"/>
<line x1="406.17" y1="733.00" x2="409.17" y2="733.00" stroke="#333" stroke-width="0.9"/>
<rect x="404.72" y="742.33" width="5.90" height="60.67" fill="#000"/>
<line x1="414.19" y1="655.21" x2="414.19" y2="667.33" stroke="#ff9a4a" stroke-width="0.9"/>
<line x1="412.69" y1="655.21" x2="415.69" y2="655.21" stroke="#ff9a4a" stroke-width="0.9"/>
<rect x="411.24" y="667.33" width="5.90" height="135.67" fill="#ff8000"/>
<line x1="420.71" y1="667.33" x2="420.71" y2="680.10" stroke="#22e22a" stroke-width="0.9"/>
<line x1="419.21" y1="667.33" x2="422.21" y2="667.33" stroke="#22e22a" stroke-width="0.9"/>
<rect x="417.76" y="680.10" width="5.90" height="122.90" fill="#00fa08"/>
<line x1="427.23" y1="730.35" x2="427.23" y2="741.74" stroke="#c94be6" stroke-width="0.9"/>
<line x1="425.73" y1="730.35" x2="428.73" y2="730.35" stroke="#c94be6" stroke-width="0.9"/>
<rect x="424.28" y="741.74" width="5.90" height="61.26" fill="#aa00e6"/>
<line x1="433.75" y1="663.42" x2="433.75" y2="679.97" stroke="#4a4aff" stroke-width="0.9"/>
<line x1="432.25" y1="663.42" x2="435.25" y2="663.42" stroke="#4a4aff" stroke-width="0.9"/>
<rect x="430.80" y="679.97" width="5.90" height="123.03" fill="#0000ff"/>
<line x1="284.00" y1="803.50" x2="284.00" y2="807.70" stroke="#262626" stroke-width="1.0"/>
<line x1="328.80" y1="803.50" x2="328.80" y2="807.70" stroke="#262626" stroke-width="1.0"/>
<line x1="373.40" y1="803.50" x2="373.40" y2="807.70" stroke="#262626" stroke-width="1.0"/>
<line x1="418.00" y1="803.50" x2="418.00" y2="807.70" stroke="#262626" stroke-width="1.0"/>
<text x="289.00" y="814.40" font-size="12.4" text-anchor="end" fill="#1d1816" transform="rotate(-30 289.00 814.40)">GluA1</text>
<text x="333.90" y="814.40" font-size="12.4" text-anchor="end" fill="#1d1816" transform="rotate(-30 333.90 814.40)">GluA2</text>
<text x="378.50" y="814.40" font-size="12.4" text-anchor="end" fill="#1d1816" transform="rotate(-30 378.50 814.40)">pGluA1-Ser845</text>
<text x="423.10" y="814.40" font-size="12.4" text-anchor="end" fill="#1d1816" transform="rotate(-30 423.10 814.40)">pGluA1-Ser831</text>
<text x="271.70" y="726.04" font-size="7.6" text-anchor="middle" fill="#1d1816" stroke="#1d1816" stroke-width="0.18">n.s.</text>
<path d="M268.50 730.60L268.50 727.70L275.20 727.70L275.20 730.60" fill="none" stroke="#222" stroke-width="0.8"/>
<text x="315.40" y="717.34" font-size="7.6" text-anchor="middle" fill="#1d1816" stroke="#1d1816" stroke-width="0.18">n.s.</text>
<path d="M312.20 722.70L312.20 719.80L319.20 719.80L319.20 722.70" fill="none" stroke="#222" stroke-width="0.8"/>
<text x="359.20" y="724.04" font-size="7.6" text-anchor="middle" fill="#1d1816" stroke="#1d1816" stroke-width="0.18">n.s.</text>
<path d="M356.20 729.20L356.20 726.20L363.50 726.20L363.50 729.20" fill="none" stroke="#222" stroke-width="0.8"/>
<text x="403.50" y="724.64" font-size="7.6" text-anchor="middle" fill="#1d1816" stroke="#1d1816" stroke-width="0.18">n.s.</text>
<path d="M400.60 729.70L400.60 726.80L407.80 726.80L407.80 729.70" fill="none" stroke="#222" stroke-width="0.8"/>
<text x="289.00" y="581.75" font-size="8.2" text-anchor="middle" fill="#1d1816" stroke="#1d1816" stroke-width="0.18">##</text>
<path d="M275.40 588.60L275.40 584.00L300.20 584.00L300.20 588.60" fill="none" stroke="#222" stroke-width="0.8"/>
<text x="287.00" y="593.10" font-size="8.6" text-anchor="middle" fill="#1d1816" stroke="#1d1816" stroke-width="0.18">$$$</text>
<path d="M280.40 598.40L280.40 595.60L293.90 595.60L293.90 598.40" fill="none" stroke="#222" stroke-width="0.8"/>
<text x="295.30" y="604.74" font-size="7.6" text-anchor="middle" fill="#1d1816" stroke="#1d1816" stroke-width="0.18">n.s.</text>
<path d="M287.40 610.20L287.40 605.60L299.50 605.60L299.50 610.20" fill="none" stroke="#222" stroke-width="0.8"/>
<text x="282.00" y="612.75" font-size="8.2" text-anchor="middle" fill="#1d1816" stroke="#1d1816" stroke-width="0.18">##</text>
<path d="M275.10 618.60L275.10 614.10L287.40 614.10L287.40 618.60" fill="none" stroke="#222" stroke-width="0.8"/>
<text x="280.70" y="626.00" font-size="10.5" text-anchor="middle" fill="#1d1816">**</text>
<text x="297.40" y="624.96" font-size="7.4" text-anchor="middle" fill="#1e90ff" stroke="#1e90ff" stroke-width="0.18">++</text>
<path d="M294.40 631.80L294.40 626.70L300.50 626.70L300.50 631.80" fill="none" stroke="#222" stroke-width="0.8"/>
<text x="333.70" y="585.95" font-size="8.2" text-anchor="middle" fill="#1d1816" stroke="#1d1816" stroke-width="0.18">##</text>
<path d="M318.30 592.80L318.30 588.30L343.40 588.30L343.40 592.80" fill="none" stroke="#222" stroke-width="0.8"/>
<text x="331.90" y="598.70" font-size="8.6" text-anchor="middle" fill="#1d1816" stroke="#1d1816" stroke-width="0.18">$$</text>
<path d="M325.30 604.00L325.30 600.70L338.60 600.70L338.60 604.00" fill="none" stroke="#222" stroke-width="0.8"/>
<text x="340.00" y="611.34" font-size="7.6" text-anchor="middle" fill="#1d1816" stroke="#1d1816" stroke-width="0.18">n.s.</text>
<path d="M331.60 616.50L331.60 612.30L344.80 612.30L344.80 616.50" fill="none" stroke="#222" stroke-width="0.8"/>
<text x="326.40" y="623.65" font-size="8.2" text-anchor="middle" fill="#1d1816" stroke="#1d1816" stroke-width="0.18">##</text>
<path d="M319.30 629.70L319.30 625.30L331.60 625.30L331.60 629.70" fill="none" stroke="#222" stroke-width="0.8"/>
<text x="326.00" y="637.60" font-size="10.5" text-anchor="middle" fill="#1d1816">***</text>
<text x="340.90" y="623.46" font-size="7.4" text-anchor="middle" fill="#1e90ff" stroke="#1e90ff" stroke-width="0.18">++</text>
<path d="M338.60 630.40L338.60 625.30L344.80 625.30L344.80 630.40" fill="none" stroke="#222" stroke-width="0.8"/>
<text x="377.20" y="605.95" font-size="8.2" text-anchor="middle" fill="#1d1816" stroke="#1d1816" stroke-width="0.18">##</text>
<path d="M363.50 610.70L363.50 607.20L388.40 607.20L388.40 610.70" fill="none" stroke="#222" stroke-width="0.8"/>
<text x="374.80" y="616.10" font-size="8.6" text-anchor="middle" fill="#1d1816" stroke="#1d1816" stroke-width="0.18">$</text>
<path d="M368.40 620.70L368.40 617.70L382.40 617.70L382.40 620.70" fill="none" stroke="#222" stroke-width="0.8"/>
<text x="384.20" y="628.14" font-size="7.6" text-anchor="middle" fill="#1d1816" stroke="#1d1816" stroke-width="0.18">n.s.</text>
<path d="M375.50 633.70L375.50 629.50L388.10 629.50L388.10 633.70" fill="none" stroke="#222" stroke-width="0.8"/>
<text x="368.80" y="639.71" font-size="7.8" text-anchor="middle" fill="#1d1816" stroke="#1d1816" stroke-width="0.18">###</text>
<path d="M363.50 646.20L363.50 641.60L376.10 641.60L376.10 646.20" fill="none" stroke="#222" stroke-width="0.8"/>
<text x="369.20" y="657.40" font-size="10.5" text-anchor="middle" fill="#1d1816">**</text>
<text x="384.90" y="645.42" font-size="8.4" text-anchor="middle" fill="#1e90ff" stroke="#1e90ff" stroke-width="0.18">+</text>
<path d="M382.50 651.80L382.50 646.70L388.60 646.70L388.60 651.80" fill="none" stroke="#222" stroke-width="0.8"/>
<text x="422.10" y="611.25" font-size="8.2" text-anchor="middle" fill="#1d1816" stroke="#1d1816" stroke-width="0.18">##</text>
<path d="M407.50 619.00L407.50 614.20L432.60 614.20L432.60 619.00" fill="none" stroke="#222" stroke-width="0.8"/>
<text x="420.40" y="624.00" font-size="8.6" text-anchor="middle" fill="#1d1816" stroke="#1d1816" stroke-width="0.18">$$</text>
<path d="M413.50 629.50L413.50 626.40L426.70 626.40L426.70 629.50" fill="none" stroke="#222" stroke-width="0.8"/>
<text x="428.10" y="636.34" font-size="7.6" text-anchor="middle" fill="#1d1816" stroke="#1d1816" stroke-width="0.18">n.s.</text>
<path d="M419.30 642.80L419.30 638.60L432.60 638.60L432.60 642.80" fill="none" stroke="#222" stroke-width="0.8"/>
<text x="414.20" y="643.95" font-size="8.2" text-anchor="middle" fill="#1d1816" stroke="#1d1816" stroke-width="0.18">#</text>
<path d="M407.50 649.70L407.50 645.60L419.70 645.60L419.70 649.70" fill="none" stroke="#222" stroke-width="0.8"/>
<text x="413.50" y="657.20" font-size="10.5" text-anchor="middle" fill="#1d1816">**</text>
<text x="429.50" y="658.62" font-size="8.4" text-anchor="middle" fill="#1e90ff" stroke="#1e90ff" stroke-width="0.18">+</text>
<path d="M426.40 664.40L426.40 659.50L433.00 659.50L433.00 664.40" fill="none" stroke="#222" stroke-width="0.8"/>
<text x="469.60" y="531.40" font-size="22" font-weight="bold" fill="#231815">G</text>
<text x="490.40" y="544.60" font-size="12.45" fill="#1d1816">FC, Fear conditioning</text>
<text x="621.60" y="544.60" font-size="12.2" fill="#1d1816">R, Recall</text>
<text x="676.20" y="544.60" font-size="12.3" fill="#1d1816">Ext, Extinction</text>
<rect x="499.60" y="549.40" width="252.00" height="11.80" fill="#fff" stroke="#111" stroke-width="1.1"/>
<rect x="538.70" y="549.10" width="3.80" height="12.40" fill="#000"/>
<rect x="580.70" y="549.10" width="3.80" height="12.40" fill="#000"/>
<rect x="622.50" y="549.10" width="3.80" height="12.40" fill="#000"/>
<rect x="664.30" y="549.10" width="3.80" height="12.40" fill="#000"/>
<rect x="706.10" y="549.10" width="3.80" height="12.40" fill="#000"/>
<rect x="747.90" y="549.10" width="3.80" height="12.40" fill="#000"/>
<text x="519.10" y="560.00" font-size="12.4" text-anchor="middle" fill="#1d1816">0</text>
<text x="560.60" y="560.00" font-size="12.4" text-anchor="middle" fill="#1d1816">1</text>
<text x="602.50" y="560.00" font-size="12.4" text-anchor="middle" fill="#1d1816">2</text>
<text x="644.30" y="560.00" font-size="12.4" text-anchor="middle" fill="#1d1816">3</text>
<text x="686.10" y="560.00" font-size="12.4" text-anchor="middle" fill="#1d1816">4</text>
<text x="727.90" y="560.00" font-size="12.4" text-anchor="middle" fill="#1d1816">5</text>
<text x="472.30" y="559.20" font-size="12.5" fill="#1d1816">Day</text>
<line x1="582.60" y1="569.30" x2="582.60" y2="575.40" stroke="#000" stroke-width="1.1"/>
<path d="M582.60 562.60L587.20 569.80L578.00 569.80Z" fill="#000"/>
<line x1="624.40" y1="569.30" x2="624.40" y2="575.40" stroke="#000" stroke-width="1.1"/>
<path d="M624.40 562.60L629.00 569.80L619.80 569.80Z" fill="#000"/>
<line x1="666.20" y1="569.30" x2="666.20" y2="575.40" stroke="#000" stroke-width="1.1"/>
<path d="M666.20 562.60L670.80 569.80L661.60 569.80Z" fill="#000"/>
<line x1="708.00" y1="569.30" x2="708.00" y2="575.40" stroke="#000" stroke-width="1.1"/>
<path d="M708.00 562.60L712.60 569.80L703.40 569.80Z" fill="#000"/>
<line x1="749.80" y1="569.30" x2="749.80" y2="575.40" stroke="#000" stroke-width="1.1"/>
<path d="M749.80 562.60L754.40 569.80L745.20 569.80Z" fill="#000"/>
<path d="M539.50 561.60L535.60 568.80L537.60 568.80L534.60 574.00L536.60 574.00L533.00 579.80L540.60 579.80L538.80 575.40L540.40 575.40L538.60 570.20L540.20 570.20Z" fill="#ffe600" stroke="#b92be0" stroke-width="1.0" stroke-linejoin="miter"/>
<text x="538.00" y="590.80" font-size="12.2" text-anchor="middle" fill="#1d1816">FC</text>
<text x="542.40" y="603.20" font-size="12.8" text-anchor="middle" fill="#1d1816">(1 CS/US)</text>
<text x="583.20" y="588.60" font-size="12.2" text-anchor="middle" fill="#1d1816">R</text>
<text x="623.20" y="588.60" font-size="12.2" text-anchor="middle" fill="#1d1816">Ext-1</text>
<text x="665.00" y="588.60" font-size="12.2" text-anchor="middle" fill="#1d1816">Ext-2</text>
<text x="707.80" y="588.60" font-size="12.2" text-anchor="middle" fill="#1d1816">Ext-3</text>
<text x="742.40" y="588.60" font-size="12.2" text-anchor="middle" fill="#1d1816">Ext-4</text>
<line x1="759.40" y1="568.00" x2="759.40" y2="596.00" stroke="#ff1414" stroke-width="1.1"/>
<path d="M759.4 562.4L763.8 570.2Q759.4 568.4 755.0 570.2Z" fill="#ff1414"/>
<text x="755.20" y="606.30" font-size="12.4" text-anchor="middle" fill="#ff1414">input-output</text>
<text x="756.00" y="616.40" font-size="12.4" text-anchor="middle" fill="#ff1414">test</text>
<line x1="498.80" y1="638.20" x2="498.80" y2="800.30" stroke="#3a3a3a" stroke-width="1.3"/>
<line x1="498.20" y1="799.70" x2="667.10" y2="799.70" stroke="#3a3a3a" stroke-width="1.3"/>
<line x1="494.80" y1="799.70" x2="498.80" y2="799.70" stroke="#3a3a3a" stroke-width="1.1"/>
<text x="494.00" y="804.20" font-size="12.4" text-anchor="end" fill="#1d1816">0.0</text>
<line x1="494.80" y1="759.47" x2="498.80" y2="759.47" stroke="#3a3a3a" stroke-width="1.1"/>
<text x="494.00" y="763.97" font-size="12.4" text-anchor="end" fill="#1d1816">0.2</text>
<line x1="494.80" y1="719.24" x2="498.80" y2="719.24" stroke="#3a3a3a" stroke-width="1.1"/>
<text x="494.00" y="723.74" font-size="12.4" text-anchor="end" fill="#1d1816">0.4</text>
<line x1="494.80" y1="679.01" x2="498.80" y2="679.01" stroke="#3a3a3a" stroke-width="1.1"/>
<text x="494.00" y="683.51" font-size="12.4" text-anchor="end" fill="#1d1816">0.6</text>
<line x1="494.80" y1="638.78" x2="498.80" y2="638.78" stroke="#3a3a3a" stroke-width="1.1"/>
<text x="494.00" y="643.28" font-size="12.4" text-anchor="end" fill="#1d1816">0.8</text>
<line x1="498.90" y1="799.70" x2="498.90" y2="805.00" stroke="#3a3a3a" stroke-width="1.1"/>
<text x="498.90" y="818.20" font-size="12.4" text-anchor="middle" fill="#1d1816">0</text>
<line x1="526.83" y1="799.70" x2="526.83" y2="805.00" stroke="#3a3a3a" stroke-width="1.1"/>
<text x="526.83" y="818.20" font-size="12.4" text-anchor="middle" fill="#1d1816">0.05</text>
<line x1="554.76" y1="799.70" x2="554.76" y2="805.00" stroke="#3a3a3a" stroke-width="1.1"/>
<text x="554.76" y="818.20" font-size="12.4" text-anchor="middle" fill="#1d1816">0.1</text>
<line x1="582.69" y1="799.70" x2="582.69" y2="805.00" stroke="#3a3a3a" stroke-width="1.1"/>
<text x="582.69" y="818.20" font-size="12.4" text-anchor="middle" fill="#1d1816">0.15</text>
<line x1="610.62" y1="799.70" x2="610.62" y2="805.00" stroke="#3a3a3a" stroke-width="1.1"/>
<text x="610.62" y="818.20" font-size="12.4" text-anchor="middle" fill="#1d1816">0.2</text>
<line x1="638.55" y1="799.70" x2="638.55" y2="805.00" stroke="#3a3a3a" stroke-width="1.1"/>
<text x="639.25" y="818.20" font-size="12.4" text-anchor="middle" fill="#1d1816">0.25</text>
<line x1="666.48" y1="799.70" x2="666.48" y2="805.00" stroke="#3a3a3a" stroke-width="1.1"/>
<text x="663.58" y="818.20" font-size="12.4" text-anchor="middle" fill="#1d1816">0.3</text>
<text x="564.30" y="836.80" font-size="12.4" text-anchor="middle" fill="#1d1816">Fiber volley (mV)</text>
<text x="473.40" y="720.00" font-size="12.6" text-anchor="middle" fill="#1d1816" transform="rotate(-90 473.40 720.00)">fEPSP amplitude (mV)</text>
<polyline points="518.4,778.5 552.6,744.3 580.9,722.2 627.6,699.2 657.2,683.4" fill="none" stroke="#ff7f0e" stroke-width="1.1"/>
<path d="M518.40 774.70L522.01 781.35L514.79 781.35Z" fill="#ff7f0e"/>
<path d="M552.60 740.50L556.21 747.15L548.99 747.15Z" fill="#ff7f0e"/>
<path d="M580.90 718.40L584.51 725.05L577.29 725.05Z" fill="#ff7f0e"/>
<path d="M627.60 695.40L631.21 702.05L623.99 702.05Z" fill="#ff7f0e"/>
<path d="M657.20 679.60L660.81 686.25L653.59 686.25Z" fill="#ff7f0e"/>
<polyline points="517.1,779.7 553.4,748.9 579.7,717.2 623.5,697.1 662.3,677.1" fill="none" stroke="#0cf414" stroke-width="1.1"/>
<path d="M517.10 783.50L520.71 776.85L513.49 776.85Z" fill="#0cf414"/>
<path d="M553.40 752.70L557.01 746.05L549.79 746.05Z" fill="#0cf414"/>
<path d="M579.70 721.00L583.31 714.35L576.09 714.35Z" fill="#0cf414"/>
<path d="M623.50 700.90L627.11 694.25L619.89 694.25Z" fill="#0cf414"/>
<path d="M662.30 680.90L665.91 674.25L658.69 674.25Z" fill="#0cf414"/>
<polyline points="515.0,778.0 554.7,743.9 581.4,721.8 626.0,694.6 652.2,682.6" fill="none" stroke="#b818e4" stroke-width="1.1"/>
<circle cx="515.00" cy="778.00" r="2.9" fill="#fff" stroke="#b818e4" stroke-width="1.2"/>
<circle cx="554.70" cy="743.90" r="2.9" fill="#fff" stroke="#b818e4" stroke-width="1.2"/>
<circle cx="581.40" cy="721.80" r="2.9" fill="#fff" stroke="#b818e4" stroke-width="1.2"/>
<circle cx="626.00" cy="694.60" r="2.9" fill="#fff" stroke="#b818e4" stroke-width="1.2"/>
<circle cx="652.20" cy="682.60" r="2.9" fill="#fff" stroke="#b818e4" stroke-width="1.2"/>
<polyline points="511.7,761.0 547.6,726.3 583.0,684.2 622.6,675.5 647.2,655.4" fill="none" stroke="#1a1aff" stroke-width="1.1"/>
<circle cx="511.70" cy="761.00" r="2.9" fill="#fff" stroke="#1a1aff" stroke-width="1.2"/>
<circle cx="547.60" cy="726.30" r="2.9" fill="#fff" stroke="#1a1aff" stroke-width="1.2"/>
<circle cx="583.00" cy="684.20" r="2.9" fill="#fff" stroke="#1a1aff" stroke-width="1.2"/>
<circle cx="622.60" cy="675.50" r="2.9" fill="#fff" stroke="#1a1aff" stroke-width="1.2"/>
<circle cx="647.20" cy="655.40" r="2.9" fill="#fff" stroke="#1a1aff" stroke-width="1.2"/>
<path d="M668.4 652.2L674.8 652.2L674.8 681.6L668.4 681.6" fill="none" stroke="#3a3a3a" stroke-width="1.1"/>
<text x="676.40" y="675.00" font-size="17" fill="#1d1816" stroke="#1d1816" stroke-width="0.4">***</text>
<circle cx="577.60" cy="737.60" r="2.7" fill="#fff" stroke="#1a1aff" stroke-width="1.2"/>
<text x="587.20" y="742.00" font-size="13.0" fill="#1d1816">TG  (n= 5 slices/4 mice )</text>
<circle cx="577.60" cy="754.80" r="2.7" fill="#fff" stroke="#b818e4" stroke-width="1.2"/>
<text x="587.20" y="759.00" font-size="13.0" fill="#1d1816">WT  (n= 5 slices/4 mice )</text>
<path d="M577.60 773.80L580.64 768.20L574.56 768.20Z" fill="#0cf414"/>
<text x="587.20" y="775.40" font-size="13.0" fill="#1d1816">TG+NM-PP1  (n= 5 slices/4 mice)</text>
<path d="M577.60 784.60L580.64 790.20L574.56 790.20Z" fill="#ff7f0e"/>
<text x="587.20" y="792.00" font-size="13.0" fill="#1d1816">WT+NM-PP1  (n= 6 slices/4 mice)</text>
</svg>
</body></html>
